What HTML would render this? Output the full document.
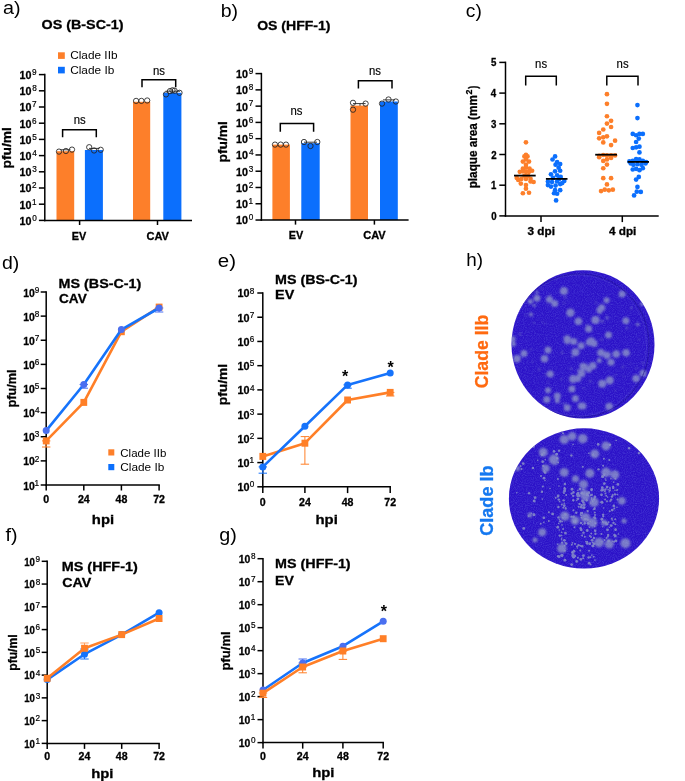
<!DOCTYPE html><html><head><meta charset="utf-8"><style>html,body{margin:0;padding:0;background:#fff;width:685px;height:781px;overflow:hidden;}svg{display:block;will-change:transform;font-family:"Liberation Sans", sans-serif;}</style></head><body><svg width="685" height="781" viewBox="0 0 685 781" font-family='"Liberation Sans", sans-serif'>
<rect width="685" height="781" fill="#fff"/>
<text x="2.96" y="13.70" font-size="18.7" textLength="17.56" lengthAdjust="spacingAndGlyphs">a)</text>
<text x="220.74" y="16.90" font-size="18.7" textLength="17.37" lengthAdjust="spacingAndGlyphs">b)</text>
<text x="465.88" y="17.20" font-size="18.7" textLength="16.01" lengthAdjust="spacingAndGlyphs">c)</text>
<text x="1.98" y="269.40" font-size="18.7" textLength="17.33" lengthAdjust="spacingAndGlyphs">d)</text>
<text x="217.83" y="266.50" font-size="18.7" textLength="18.24" lengthAdjust="spacingAndGlyphs">e)</text>
<text x="5.62" y="540.70" font-size="18.7" textLength="12.00" lengthAdjust="spacingAndGlyphs">f)</text>
<text x="219.17" y="540.80" font-size="18.7" textLength="17.55" lengthAdjust="spacingAndGlyphs">g)</text>
<text x="466.39" y="266.40" font-size="18.7" textLength="16.78" lengthAdjust="spacingAndGlyphs">h)</text>
<rect x="56.50" y="151.20" width="17.70" height="69.20" fill="#fd7f2a"/>
<rect x="84.90" y="150.00" width="18.00" height="70.40" fill="#0b6ffd"/>
<rect x="133.00" y="101.80" width="17.20" height="118.60" fill="#fd7f2a"/>
<rect x="163.30" y="92.80" width="18.10" height="127.60" fill="#0b6ffd"/>
<circle cx="59.00" cy="151.60" r="2.65" fill="none" stroke="#222" stroke-width="0.85"/>
<circle cx="65.90" cy="151.00" r="2.65" fill="none" stroke="#222" stroke-width="0.85"/>
<circle cx="72.00" cy="149.60" r="2.65" fill="none" stroke="#222" stroke-width="0.85"/>
<circle cx="89.20" cy="147.20" r="2.65" fill="none" stroke="#222" stroke-width="0.85"/>
<circle cx="94.10" cy="150.50" r="2.65" fill="none" stroke="#222" stroke-width="0.85"/>
<circle cx="100.70" cy="149.80" r="2.65" fill="none" stroke="#222" stroke-width="0.85"/>
<circle cx="136.10" cy="100.90" r="2.65" fill="none" stroke="#222" stroke-width="0.85"/>
<circle cx="141.40" cy="100.90" r="2.65" fill="none" stroke="#222" stroke-width="0.85"/>
<circle cx="147.20" cy="100.50" r="2.65" fill="none" stroke="#222" stroke-width="0.85"/>
<circle cx="166.00" cy="94.40" r="2.65" fill="none" stroke="#222" stroke-width="0.85"/>
<circle cx="170.00" cy="91.10" r="2.65" fill="none" stroke="#222" stroke-width="0.85"/>
<circle cx="172.50" cy="90.30" r="2.65" fill="none" stroke="#222" stroke-width="0.85"/>
<circle cx="174.60" cy="90.70" r="2.65" fill="none" stroke="#222" stroke-width="0.85"/>
<circle cx="179.50" cy="92.80" r="2.65" fill="none" stroke="#222" stroke-width="0.85"/>
<line x1="60.50" y1="149.80" x2="70.50" y2="149.80" stroke="#222" stroke-width="0.9" stroke-linecap="butt"/>
<line x1="89.00" y1="148.40" x2="99.50" y2="148.40" stroke="#222" stroke-width="0.9" stroke-linecap="butt"/>
<line x1="165.50" y1="91.20" x2="180.00" y2="91.20" stroke="#222" stroke-width="0.9" stroke-linecap="butt"/>
<line x1="44.80" y1="73.85" x2="44.80" y2="221.15" stroke="#000" stroke-width="1.5" stroke-linecap="butt"/>
<line x1="38.90" y1="74.60" x2="44.80" y2="74.60" stroke="#000" stroke-width="1.5" stroke-linecap="butt"/>
<text x="19.48" y="79.00" font-size="11.0" font-weight="bold" stroke="#000" stroke-width="0.3" textLength="11.91" lengthAdjust="spacingAndGlyphs">10</text>
<text x="32.12" y="74.90" font-size="8.2" stroke="#000" stroke-width="0.2">9</text>
<line x1="38.90" y1="90.80" x2="44.80" y2="90.80" stroke="#000" stroke-width="1.5" stroke-linecap="butt"/>
<text x="19.48" y="95.20" font-size="11.0" font-weight="bold" stroke="#000" stroke-width="0.3" textLength="11.91" lengthAdjust="spacingAndGlyphs">10</text>
<text x="32.14" y="91.10" font-size="8.2" stroke="#000" stroke-width="0.2">8</text>
<line x1="38.90" y1="107.00" x2="44.80" y2="107.00" stroke="#000" stroke-width="1.5" stroke-linecap="butt"/>
<text x="19.48" y="111.40" font-size="11.0" font-weight="bold" stroke="#000" stroke-width="0.3" textLength="11.91" lengthAdjust="spacingAndGlyphs">10</text>
<text x="32.08" y="107.30" font-size="8.2" stroke="#000" stroke-width="0.2">7</text>
<line x1="38.90" y1="123.20" x2="44.80" y2="123.20" stroke="#000" stroke-width="1.5" stroke-linecap="butt"/>
<text x="19.48" y="127.60" font-size="11.0" font-weight="bold" stroke="#000" stroke-width="0.3" textLength="11.91" lengthAdjust="spacingAndGlyphs">10</text>
<text x="32.08" y="123.50" font-size="8.2" stroke="#000" stroke-width="0.2">6</text>
<line x1="38.90" y1="139.40" x2="44.80" y2="139.40" stroke="#000" stroke-width="1.5" stroke-linecap="butt"/>
<text x="19.48" y="143.80" font-size="11.0" font-weight="bold" stroke="#000" stroke-width="0.3" textLength="11.91" lengthAdjust="spacingAndGlyphs">10</text>
<text x="32.17" y="139.70" font-size="8.2" stroke="#000" stroke-width="0.2">5</text>
<line x1="38.90" y1="155.60" x2="44.80" y2="155.60" stroke="#000" stroke-width="1.5" stroke-linecap="butt"/>
<text x="19.48" y="160.00" font-size="11.0" font-weight="bold" stroke="#000" stroke-width="0.3" textLength="11.91" lengthAdjust="spacingAndGlyphs">10</text>
<text x="32.31" y="155.90" font-size="8.2" stroke="#000" stroke-width="0.2">4</text>
<line x1="38.90" y1="171.80" x2="44.80" y2="171.80" stroke="#000" stroke-width="1.5" stroke-linecap="butt"/>
<text x="19.48" y="176.20" font-size="11.0" font-weight="bold" stroke="#000" stroke-width="0.3" textLength="11.91" lengthAdjust="spacingAndGlyphs">10</text>
<text x="32.19" y="172.10" font-size="8.2" stroke="#000" stroke-width="0.2">3</text>
<line x1="38.90" y1="188.00" x2="44.80" y2="188.00" stroke="#000" stroke-width="1.5" stroke-linecap="butt"/>
<text x="19.48" y="192.40" font-size="11.0" font-weight="bold" stroke="#000" stroke-width="0.3" textLength="11.91" lengthAdjust="spacingAndGlyphs">10</text>
<text x="32.09" y="188.30" font-size="8.2" stroke="#000" stroke-width="0.2">2</text>
<line x1="38.90" y1="204.20" x2="44.80" y2="204.20" stroke="#000" stroke-width="1.5" stroke-linecap="butt"/>
<text x="19.48" y="208.60" font-size="11.0" font-weight="bold" stroke="#000" stroke-width="0.3" textLength="11.91" lengthAdjust="spacingAndGlyphs">10</text>
<text x="31.88" y="204.50" font-size="8.2" stroke="#000" stroke-width="0.2">1</text>
<line x1="38.90" y1="220.40" x2="44.80" y2="220.40" stroke="#000" stroke-width="1.5" stroke-linecap="butt"/>
<text x="19.48" y="224.80" font-size="11.0" font-weight="bold" stroke="#000" stroke-width="0.3" textLength="11.91" lengthAdjust="spacingAndGlyphs">10</text>
<text x="32.18" y="220.70" font-size="8.2" stroke="#000" stroke-width="0.2">0</text>
<line x1="44.05" y1="220.40" x2="192.00" y2="220.40" stroke="#000" stroke-width="1.5" stroke-linecap="butt"/>
<line x1="79.60" y1="220.40" x2="79.60" y2="225.00" stroke="#000" stroke-width="1.5" stroke-linecap="butt"/>
<line x1="157.50" y1="220.40" x2="157.50" y2="225.00" stroke="#000" stroke-width="1.5" stroke-linecap="butt"/>
<text x="71.72" y="240.00" font-size="11.3" font-weight="bold" stroke="#000" stroke-width="0.3" textLength="14.50" lengthAdjust="spacingAndGlyphs">EV</text>
<text x="146.41" y="240.00" font-size="11.3" font-weight="bold" stroke="#000" stroke-width="0.3" textLength="22.51" lengthAdjust="spacingAndGlyphs">CAV</text>
<polyline points="62.60,137.30 62.60,129.80 96.30,129.80 96.30,137.30" fill="none" stroke="#000" stroke-width="1.5"/>
<text x="79.70" y="123.60" font-size="12" text-anchor="middle" textLength="12.00" lengthAdjust="spacingAndGlyphs" stroke="#000" stroke-width="0.15">ns</text>
<polyline points="142.00,87.30 142.00,79.80 175.70,79.80 175.70,87.30" fill="none" stroke="#000" stroke-width="1.5"/>
<text x="159.00" y="75.40" font-size="12" text-anchor="middle" textLength="12.00" lengthAdjust="spacingAndGlyphs" stroke="#000" stroke-width="0.15">ns</text>
<text x="41.56" y="29.20" font-size="13.2" font-weight="bold" stroke="#000" stroke-width="0.3" textLength="82.00" lengthAdjust="spacingAndGlyphs">OS (B-SC-1)</text>
<text transform="translate(10.60,167.80) rotate(-90)" x="-0.76" y="0" font-size="13.3" textLength="41.39" lengthAdjust="spacingAndGlyphs" font-weight="bold" stroke="#000" stroke-width="0.3">pfu/ml</text>
<rect x="58.00" y="52.30" width="6.80" height="6.60" fill="#fd7f2a"/>
<rect x="58.00" y="66.80" width="6.80" height="6.60" fill="#0b6ffd"/>
<text x="70.20" y="59.40" font-size="11.8" textLength="47.30" lengthAdjust="spacingAndGlyphs">Clade IIb</text>
<text x="70.20" y="73.90" font-size="11.8" textLength="44.10" lengthAdjust="spacingAndGlyphs">Clade Ib</text>
<rect x="272.40" y="144.60" width="17.50" height="75.43" fill="#fd7f2a"/>
<rect x="301.30" y="143.20" width="18.40" height="76.83" fill="#0b6ffd"/>
<rect x="350.50" y="105.60" width="17.50" height="114.43" fill="#fd7f2a"/>
<rect x="380.00" y="101.50" width="17.80" height="118.53" fill="#0b6ffd"/>
<circle cx="275.00" cy="144.60" r="2.65" fill="none" stroke="#222" stroke-width="0.85"/>
<circle cx="280.70" cy="144.60" r="2.65" fill="none" stroke="#222" stroke-width="0.85"/>
<circle cx="286.00" cy="144.60" r="2.65" fill="none" stroke="#222" stroke-width="0.85"/>
<circle cx="304.00" cy="142.00" r="2.65" fill="none" stroke="#222" stroke-width="0.85"/>
<circle cx="310.50" cy="146.00" r="2.65" fill="none" stroke="#222" stroke-width="0.85"/>
<circle cx="317.30" cy="142.00" r="2.65" fill="none" stroke="#222" stroke-width="0.85"/>
<circle cx="353.00" cy="102.80" r="2.65" fill="none" stroke="#222" stroke-width="0.85"/>
<circle cx="353.00" cy="109.70" r="2.65" fill="none" stroke="#222" stroke-width="0.85"/>
<circle cx="365.60" cy="103.60" r="2.65" fill="none" stroke="#222" stroke-width="0.85"/>
<circle cx="382.00" cy="103.60" r="2.65" fill="none" stroke="#222" stroke-width="0.85"/>
<circle cx="388.50" cy="99.50" r="2.65" fill="none" stroke="#222" stroke-width="0.85"/>
<circle cx="395.90" cy="101.50" r="2.65" fill="none" stroke="#222" stroke-width="0.85"/>
<line x1="304.00" y1="142.20" x2="317.00" y2="142.20" stroke="#222" stroke-width="0.9" stroke-linecap="butt"/>
<line x1="353.00" y1="103.60" x2="365.60" y2="103.60" stroke="#222" stroke-width="0.9" stroke-linecap="butt"/>
<line x1="383.00" y1="99.90" x2="395.00" y2="99.90" stroke="#222" stroke-width="0.9" stroke-linecap="butt"/>
<line x1="261.40" y1="72.85" x2="261.40" y2="220.78" stroke="#000" stroke-width="1.5" stroke-linecap="butt"/>
<line x1="255.50" y1="73.60" x2="261.40" y2="73.60" stroke="#000" stroke-width="1.5" stroke-linecap="butt"/>
<text x="236.08" y="78.00" font-size="11.0" font-weight="bold" stroke="#000" stroke-width="0.3" textLength="11.91" lengthAdjust="spacingAndGlyphs">10</text>
<text x="248.72" y="73.90" font-size="8.2" stroke="#000" stroke-width="0.2">9</text>
<line x1="255.50" y1="89.87" x2="261.40" y2="89.87" stroke="#000" stroke-width="1.5" stroke-linecap="butt"/>
<text x="236.08" y="94.27" font-size="11.0" font-weight="bold" stroke="#000" stroke-width="0.3" textLength="11.91" lengthAdjust="spacingAndGlyphs">10</text>
<text x="248.74" y="90.17" font-size="8.2" stroke="#000" stroke-width="0.2">8</text>
<line x1="255.50" y1="106.14" x2="261.40" y2="106.14" stroke="#000" stroke-width="1.5" stroke-linecap="butt"/>
<text x="236.08" y="110.54" font-size="11.0" font-weight="bold" stroke="#000" stroke-width="0.3" textLength="11.91" lengthAdjust="spacingAndGlyphs">10</text>
<text x="248.68" y="106.44" font-size="8.2" stroke="#000" stroke-width="0.2">7</text>
<line x1="255.50" y1="122.41" x2="261.40" y2="122.41" stroke="#000" stroke-width="1.5" stroke-linecap="butt"/>
<text x="236.08" y="126.81" font-size="11.0" font-weight="bold" stroke="#000" stroke-width="0.3" textLength="11.91" lengthAdjust="spacingAndGlyphs">10</text>
<text x="248.68" y="122.71" font-size="8.2" stroke="#000" stroke-width="0.2">6</text>
<line x1="255.50" y1="138.68" x2="261.40" y2="138.68" stroke="#000" stroke-width="1.5" stroke-linecap="butt"/>
<text x="236.08" y="143.08" font-size="11.0" font-weight="bold" stroke="#000" stroke-width="0.3" textLength="11.91" lengthAdjust="spacingAndGlyphs">10</text>
<text x="248.77" y="138.98" font-size="8.2" stroke="#000" stroke-width="0.2">5</text>
<line x1="255.50" y1="154.95" x2="261.40" y2="154.95" stroke="#000" stroke-width="1.5" stroke-linecap="butt"/>
<text x="236.08" y="159.35" font-size="11.0" font-weight="bold" stroke="#000" stroke-width="0.3" textLength="11.91" lengthAdjust="spacingAndGlyphs">10</text>
<text x="248.91" y="155.25" font-size="8.2" stroke="#000" stroke-width="0.2">4</text>
<line x1="255.50" y1="171.22" x2="261.40" y2="171.22" stroke="#000" stroke-width="1.5" stroke-linecap="butt"/>
<text x="236.08" y="175.62" font-size="11.0" font-weight="bold" stroke="#000" stroke-width="0.3" textLength="11.91" lengthAdjust="spacingAndGlyphs">10</text>
<text x="248.79" y="171.52" font-size="8.2" stroke="#000" stroke-width="0.2">3</text>
<line x1="255.50" y1="187.49" x2="261.40" y2="187.49" stroke="#000" stroke-width="1.5" stroke-linecap="butt"/>
<text x="236.08" y="191.89" font-size="11.0" font-weight="bold" stroke="#000" stroke-width="0.3" textLength="11.91" lengthAdjust="spacingAndGlyphs">10</text>
<text x="248.69" y="187.79" font-size="8.2" stroke="#000" stroke-width="0.2">2</text>
<line x1="255.50" y1="203.76" x2="261.40" y2="203.76" stroke="#000" stroke-width="1.5" stroke-linecap="butt"/>
<text x="236.08" y="208.16" font-size="11.0" font-weight="bold" stroke="#000" stroke-width="0.3" textLength="11.91" lengthAdjust="spacingAndGlyphs">10</text>
<text x="248.48" y="204.06" font-size="8.2" stroke="#000" stroke-width="0.2">1</text>
<line x1="255.50" y1="220.03" x2="261.40" y2="220.03" stroke="#000" stroke-width="1.5" stroke-linecap="butt"/>
<text x="236.08" y="224.43" font-size="11.0" font-weight="bold" stroke="#000" stroke-width="0.3" textLength="11.91" lengthAdjust="spacingAndGlyphs">10</text>
<text x="248.78" y="220.33" font-size="8.2" stroke="#000" stroke-width="0.2">0</text>
<line x1="260.65" y1="220.03" x2="408.60" y2="220.03" stroke="#000" stroke-width="1.5" stroke-linecap="butt"/>
<line x1="295.50" y1="220.03" x2="295.50" y2="224.63" stroke="#000" stroke-width="1.5" stroke-linecap="butt"/>
<line x1="374.40" y1="220.03" x2="374.40" y2="224.63" stroke="#000" stroke-width="1.5" stroke-linecap="butt"/>
<text x="288.72" y="239.20" font-size="11.3" font-weight="bold" stroke="#000" stroke-width="0.3" textLength="14.50" lengthAdjust="spacingAndGlyphs">EV</text>
<text x="363.21" y="239.20" font-size="11.3" font-weight="bold" stroke="#000" stroke-width="0.3" textLength="22.51" lengthAdjust="spacingAndGlyphs">CAV</text>
<polyline points="280.30,131.80 280.30,123.40 313.60,123.40 313.60,131.80" fill="none" stroke="#000" stroke-width="1.5"/>
<text x="296.40" y="114.70" font-size="12" text-anchor="middle" textLength="12.00" lengthAdjust="spacingAndGlyphs" stroke="#000" stroke-width="0.15">ns</text>
<polyline points="358.40,88.50 358.40,80.70 392.00,80.70 392.00,88.50" fill="none" stroke="#000" stroke-width="1.5"/>
<text x="375.00" y="75.00" font-size="12" text-anchor="middle" textLength="12.00" lengthAdjust="spacingAndGlyphs" stroke="#000" stroke-width="0.15">ns</text>
<text x="257.17" y="29.70" font-size="13.2" font-weight="bold" stroke="#000" stroke-width="0.3" textLength="73.27" lengthAdjust="spacingAndGlyphs">OS (HFF-1)</text>
<text transform="translate(226.90,161.80) rotate(-90)" x="-0.76" y="0" font-size="13.3" textLength="41.39" lengthAdjust="spacingAndGlyphs" font-weight="bold" stroke="#000" stroke-width="0.3">pfu/ml</text>
<line x1="360.00" y1="103.60" x2="360.00" y2="105.80" stroke="#222" stroke-width="0.9" stroke-linecap="butt"/>
<line x1="505.50" y1="61.65" x2="505.50" y2="216.65" stroke="#000" stroke-width="1.5" stroke-linecap="butt"/>
<line x1="499.30" y1="215.90" x2="505.50" y2="215.90" stroke="#000" stroke-width="1.5" stroke-linecap="butt"/>
<text x="491.17" y="219.90" font-size="10.3" font-weight="bold" stroke="#000" stroke-width="0.3" textLength="5.38" lengthAdjust="spacingAndGlyphs">0</text>
<line x1="499.30" y1="185.20" x2="505.50" y2="185.20" stroke="#000" stroke-width="1.5" stroke-linecap="butt"/>
<text x="491.05" y="189.20" font-size="10.3" font-weight="bold" stroke="#000" stroke-width="0.3" textLength="5.37" lengthAdjust="spacingAndGlyphs">1</text>
<line x1="499.30" y1="154.50" x2="505.50" y2="154.50" stroke="#000" stroke-width="1.5" stroke-linecap="butt"/>
<text x="491.16" y="158.50" font-size="10.3" font-weight="bold" stroke="#000" stroke-width="0.3" textLength="5.38" lengthAdjust="spacingAndGlyphs">2</text>
<line x1="499.30" y1="123.80" x2="505.50" y2="123.80" stroke="#000" stroke-width="1.5" stroke-linecap="butt"/>
<text x="491.11" y="127.80" font-size="10.3" font-weight="bold" stroke="#000" stroke-width="0.3" textLength="5.39" lengthAdjust="spacingAndGlyphs">3</text>
<line x1="499.30" y1="93.10" x2="505.50" y2="93.10" stroke="#000" stroke-width="1.5" stroke-linecap="butt"/>
<text x="490.79" y="97.10" font-size="10.3" font-weight="bold" stroke="#000" stroke-width="0.3" textLength="5.42" lengthAdjust="spacingAndGlyphs">4</text>
<line x1="499.30" y1="62.40" x2="505.50" y2="62.40" stroke="#000" stroke-width="1.5" stroke-linecap="butt"/>
<text x="491.03" y="66.40" font-size="10.3" font-weight="bold" stroke="#000" stroke-width="0.3" textLength="5.39" lengthAdjust="spacingAndGlyphs">5</text>
<line x1="504.75" y1="215.90" x2="658.70" y2="215.90" stroke="#000" stroke-width="1.5" stroke-linecap="butt"/>
<line x1="541.00" y1="215.90" x2="541.00" y2="222.10" stroke="#000" stroke-width="1.5" stroke-linecap="butt"/>
<text x="527.58" y="235.10" font-size="11" font-weight="bold" stroke="#000" stroke-width="0.3" textLength="27.40" lengthAdjust="spacingAndGlyphs">3 dpi</text>
<line x1="622.30" y1="215.90" x2="622.30" y2="222.10" stroke="#000" stroke-width="1.5" stroke-linecap="butt"/>
<text x="608.97" y="235.10" font-size="11" font-weight="bold" stroke="#000" stroke-width="0.3" textLength="27.41" lengthAdjust="spacingAndGlyphs">4 dpi</text>
<polyline points="525.70,85.4 525.70,76.2 556.30,76.2 556.30,85.4" fill="none" stroke="#000" stroke-width="1.5"/>
<text x="541.10" y="68.30" font-size="12" text-anchor="middle" textLength="12.00" lengthAdjust="spacingAndGlyphs" stroke="#000" stroke-width="0.15">ns</text>
<polyline points="606.80,85.4 606.80,76.2 638.00,76.2 638.00,85.4" fill="none" stroke="#000" stroke-width="1.5"/>
<text x="622.60" y="68.30" font-size="12" text-anchor="middle" textLength="12.00" lengthAdjust="spacingAndGlyphs" stroke="#000" stroke-width="0.15">ns</text>
<text transform="translate(477.00,187.70) rotate(-90)" x="-0.62" y="0" font-size="13.3" textLength="93.20" lengthAdjust="spacingAndGlyphs" font-weight="bold" stroke="#000" stroke-width="0.3">plaque area (mm</text>
<text transform="translate(472.20,94.40) rotate(-90)" x="-0.15" y="0" font-size="9.7" textLength="4.85" lengthAdjust="spacingAndGlyphs" font-weight="bold" stroke="#000" stroke-width="0.3">2</text>
<text transform="translate(476.60,89.00) rotate(-90)" x="0.14" y="0" font-size="12.7" textLength="3.07" lengthAdjust="spacingAndGlyphs" font-weight="bold" stroke="#000" stroke-width="0.3">)</text>
<circle cx="525.95" cy="142.36" r="2.35" fill="#fd7f2a"/>
<circle cx="524.42" cy="156.46" r="2.35" fill="#fd7f2a"/>
<circle cx="527.48" cy="156.46" r="2.35" fill="#fd7f2a"/>
<circle cx="525.95" cy="154.93" r="2.35" fill="#fd7f2a"/>
<circle cx="522.88" cy="161.57" r="2.35" fill="#fd7f2a"/>
<circle cx="529.01" cy="161.57" r="2.35" fill="#fd7f2a"/>
<circle cx="525.95" cy="159.52" r="2.35" fill="#fd7f2a"/>
<circle cx="525.95" cy="164.63" r="2.35" fill="#fd7f2a"/>
<circle cx="522.88" cy="168.72" r="2.35" fill="#fd7f2a"/>
<circle cx="525.95" cy="167.70" r="2.35" fill="#fd7f2a"/>
<circle cx="529.52" cy="168.72" r="2.35" fill="#fd7f2a"/>
<circle cx="532.08" cy="170.77" r="2.35" fill="#fd7f2a"/>
<circle cx="519.82" cy="171.79" r="2.35" fill="#fd7f2a"/>
<circle cx="522.88" cy="171.28" r="2.35" fill="#fd7f2a"/>
<circle cx="525.95" cy="171.79" r="2.35" fill="#fd7f2a"/>
<circle cx="529.01" cy="171.79" r="2.35" fill="#fd7f2a"/>
<circle cx="518.28" cy="179.96" r="2.35" fill="#fd7f2a"/>
<circle cx="521.35" cy="178.94" r="2.35" fill="#fd7f2a"/>
<circle cx="525.95" cy="178.94" r="2.35" fill="#fd7f2a"/>
<circle cx="530.55" cy="178.94" r="2.35" fill="#fd7f2a"/>
<circle cx="533.61" cy="182.01" r="2.35" fill="#fd7f2a"/>
<circle cx="520.84" cy="183.54" r="2.35" fill="#fd7f2a"/>
<circle cx="525.95" cy="185.07" r="2.35" fill="#fd7f2a"/>
<circle cx="525.95" cy="188.65" r="2.35" fill="#fd7f2a"/>
<circle cx="522.88" cy="193.25" r="2.35" fill="#fd7f2a"/>
<circle cx="529.01" cy="192.74" r="2.35" fill="#fd7f2a"/>
<circle cx="516.75" cy="177.92" r="2.35" fill="#fd7f2a"/>
<circle cx="524.42" cy="175.87" r="2.35" fill="#fd7f2a"/>
<circle cx="527.99" cy="175.87" r="2.35" fill="#fd7f2a"/>
<circle cx="530.55" cy="181.49" r="2.35" fill="#fd7f2a"/>
<circle cx="555.07" cy="156.46" r="2.35" fill="#0b6ffd"/>
<circle cx="552.52" cy="159.52" r="2.35" fill="#0b6ffd"/>
<circle cx="557.12" cy="162.08" r="2.35" fill="#0b6ffd"/>
<circle cx="560.18" cy="164.12" r="2.35" fill="#0b6ffd"/>
<circle cx="555.58" cy="164.63" r="2.35" fill="#0b6ffd"/>
<circle cx="558.65" cy="167.70" r="2.35" fill="#0b6ffd"/>
<circle cx="560.18" cy="170.77" r="2.35" fill="#0b6ffd"/>
<circle cx="555.07" cy="171.28" r="2.35" fill="#0b6ffd"/>
<circle cx="550.98" cy="174.34" r="2.35" fill="#0b6ffd"/>
<circle cx="557.12" cy="175.36" r="2.35" fill="#0b6ffd"/>
<circle cx="560.69" cy="176.90" r="2.35" fill="#0b6ffd"/>
<circle cx="547.92" cy="181.49" r="2.35" fill="#0b6ffd"/>
<circle cx="552.01" cy="182.01" r="2.35" fill="#0b6ffd"/>
<circle cx="557.12" cy="181.49" r="2.35" fill="#0b6ffd"/>
<circle cx="564.27" cy="180.98" r="2.35" fill="#0b6ffd"/>
<circle cx="547.92" cy="185.07" r="2.35" fill="#0b6ffd"/>
<circle cx="550.98" cy="186.60" r="2.35" fill="#0b6ffd"/>
<circle cx="555.58" cy="185.58" r="2.35" fill="#0b6ffd"/>
<circle cx="560.18" cy="184.05" r="2.35" fill="#0b6ffd"/>
<circle cx="562.22" cy="183.03" r="2.35" fill="#0b6ffd"/>
<circle cx="555.07" cy="190.18" r="2.35" fill="#0b6ffd"/>
<circle cx="560.18" cy="190.18" r="2.35" fill="#0b6ffd"/>
<circle cx="554.05" cy="193.25" r="2.35" fill="#0b6ffd"/>
<circle cx="557.12" cy="193.76" r="2.35" fill="#0b6ffd"/>
<circle cx="556.09" cy="200.40" r="2.35" fill="#0b6ffd"/>
<circle cx="553.03" cy="177.92" r="2.35" fill="#0b6ffd"/>
<circle cx="559.16" cy="178.94" r="2.35" fill="#0b6ffd"/>
<circle cx="606.95" cy="94.14" r="2.35" fill="#fd7f2a"/>
<circle cx="606.95" cy="103.86" r="2.35" fill="#fd7f2a"/>
<circle cx="606.95" cy="116.24" r="2.35" fill="#fd7f2a"/>
<circle cx="611.07" cy="120.81" r="2.35" fill="#fd7f2a"/>
<circle cx="606.95" cy="123.61" r="2.35" fill="#fd7f2a"/>
<circle cx="611.07" cy="127.00" r="2.35" fill="#fd7f2a"/>
<circle cx="603.26" cy="129.50" r="2.35" fill="#fd7f2a"/>
<circle cx="599.14" cy="132.89" r="2.35" fill="#fd7f2a"/>
<circle cx="606.95" cy="136.28" r="2.35" fill="#fd7f2a"/>
<circle cx="603.26" cy="137.31" r="2.35" fill="#fd7f2a"/>
<circle cx="599.14" cy="138.35" r="2.35" fill="#fd7f2a"/>
<circle cx="615.05" cy="140.70" r="2.35" fill="#fd7f2a"/>
<circle cx="603.26" cy="142.47" r="2.35" fill="#fd7f2a"/>
<circle cx="611.07" cy="145.12" r="2.35" fill="#fd7f2a"/>
<circle cx="599.14" cy="155.73" r="2.35" fill="#fd7f2a"/>
<circle cx="603.26" cy="155.00" r="2.35" fill="#fd7f2a"/>
<circle cx="606.95" cy="155.44" r="2.35" fill="#fd7f2a"/>
<circle cx="611.07" cy="155.44" r="2.35" fill="#fd7f2a"/>
<circle cx="615.05" cy="155.44" r="2.35" fill="#fd7f2a"/>
<circle cx="599.14" cy="157.21" r="2.35" fill="#fd7f2a"/>
<circle cx="603.26" cy="160.89" r="2.35" fill="#fd7f2a"/>
<circle cx="606.95" cy="159.42" r="2.35" fill="#fd7f2a"/>
<circle cx="611.07" cy="157.94" r="2.35" fill="#fd7f2a"/>
<circle cx="606.95" cy="164.58" r="2.35" fill="#fd7f2a"/>
<circle cx="603.26" cy="168.26" r="2.35" fill="#fd7f2a"/>
<circle cx="603.26" cy="178.13" r="2.35" fill="#fd7f2a"/>
<circle cx="611.07" cy="178.13" r="2.35" fill="#fd7f2a"/>
<circle cx="606.95" cy="184.47" r="2.35" fill="#fd7f2a"/>
<circle cx="601.05" cy="191.10" r="2.35" fill="#fd7f2a"/>
<circle cx="604.74" cy="189.63" r="2.35" fill="#fd7f2a"/>
<circle cx="608.86" cy="190.36" r="2.35" fill="#fd7f2a"/>
<circle cx="612.84" cy="189.63" r="2.35" fill="#fd7f2a"/>
<circle cx="637.45" cy="105.07" r="2.35" fill="#0b6ffd"/>
<circle cx="637.45" cy="118.09" r="2.35" fill="#0b6ffd"/>
<circle cx="632.75" cy="133.93" r="2.35" fill="#0b6ffd"/>
<circle cx="636.11" cy="135.27" r="2.35" fill="#0b6ffd"/>
<circle cx="639.46" cy="133.93" r="2.35" fill="#0b6ffd"/>
<circle cx="642.82" cy="133.93" r="2.35" fill="#0b6ffd"/>
<circle cx="638.79" cy="138.62" r="2.35" fill="#0b6ffd"/>
<circle cx="636.11" cy="141.98" r="2.35" fill="#0b6ffd"/>
<circle cx="632.75" cy="148.02" r="2.35" fill="#0b6ffd"/>
<circle cx="636.11" cy="147.35" r="2.35" fill="#0b6ffd"/>
<circle cx="639.46" cy="146.68" r="2.35" fill="#0b6ffd"/>
<circle cx="639.46" cy="152.45" r="2.35" fill="#0b6ffd"/>
<circle cx="629.40" cy="161.44" r="2.35" fill="#0b6ffd"/>
<circle cx="632.75" cy="160.77" r="2.35" fill="#0b6ffd"/>
<circle cx="636.11" cy="159.16" r="2.35" fill="#0b6ffd"/>
<circle cx="639.46" cy="159.43" r="2.35" fill="#0b6ffd"/>
<circle cx="642.82" cy="160.77" r="2.35" fill="#0b6ffd"/>
<circle cx="646.17" cy="162.11" r="2.35" fill="#0b6ffd"/>
<circle cx="630.74" cy="163.46" r="2.35" fill="#0b6ffd"/>
<circle cx="633.42" cy="164.80" r="2.35" fill="#0b6ffd"/>
<circle cx="637.45" cy="164.13" r="2.35" fill="#0b6ffd"/>
<circle cx="641.48" cy="164.80" r="2.35" fill="#0b6ffd"/>
<circle cx="645.50" cy="163.46" r="2.35" fill="#0b6ffd"/>
<circle cx="632.75" cy="169.50" r="2.35" fill="#0b6ffd"/>
<circle cx="636.11" cy="168.83" r="2.35" fill="#0b6ffd"/>
<circle cx="639.46" cy="170.17" r="2.35" fill="#0b6ffd"/>
<circle cx="642.82" cy="168.15" r="2.35" fill="#0b6ffd"/>
<circle cx="638.79" cy="176.88" r="2.35" fill="#0b6ffd"/>
<circle cx="636.11" cy="179.56" r="2.35" fill="#0b6ffd"/>
<circle cx="637.45" cy="186.95" r="2.35" fill="#0b6ffd"/>
<circle cx="636.78" cy="191.64" r="2.35" fill="#0b6ffd"/>
<circle cx="640.81" cy="191.91" r="2.35" fill="#0b6ffd"/>
<circle cx="634.09" cy="195.40" r="2.35" fill="#0b6ffd"/>
<line x1="514.00" y1="175.60" x2="535.70" y2="175.60" stroke="#000" stroke-width="1.8" stroke-linecap="butt"/>
<line x1="545.90" y1="178.90" x2="567.50" y2="178.90" stroke="#000" stroke-width="1.8" stroke-linecap="butt"/>
<line x1="595.20" y1="154.70" x2="617.00" y2="154.70" stroke="#000" stroke-width="1.8" stroke-linecap="butt"/>
<line x1="627.60" y1="161.90" x2="649.00" y2="161.90" stroke="#000" stroke-width="1.8" stroke-linecap="butt"/>
<line x1="46.20" y1="291.25" x2="46.20" y2="485.75" stroke="#000" stroke-width="1.5" stroke-linecap="butt"/>
<line x1="40.70" y1="292.00" x2="46.20" y2="292.00" stroke="#000" stroke-width="1.5" stroke-linecap="butt"/>
<text x="23.29" y="296.50" font-size="11.4" font-weight="bold" stroke="#000" stroke-width="0.3" textLength="11.58" lengthAdjust="spacingAndGlyphs">10</text>
<text x="34.72" y="292.70" font-size="8.2" stroke="#000" stroke-width="0.2">9</text>
<line x1="40.70" y1="316.12" x2="46.20" y2="316.12" stroke="#000" stroke-width="1.5" stroke-linecap="butt"/>
<text x="23.29" y="320.62" font-size="11.4" font-weight="bold" stroke="#000" stroke-width="0.3" textLength="11.58" lengthAdjust="spacingAndGlyphs">10</text>
<text x="34.74" y="316.82" font-size="8.2" stroke="#000" stroke-width="0.2">8</text>
<line x1="40.70" y1="340.25" x2="46.20" y2="340.25" stroke="#000" stroke-width="1.5" stroke-linecap="butt"/>
<text x="23.29" y="344.75" font-size="11.4" font-weight="bold" stroke="#000" stroke-width="0.3" textLength="11.58" lengthAdjust="spacingAndGlyphs">10</text>
<text x="34.68" y="340.95" font-size="8.2" stroke="#000" stroke-width="0.2">7</text>
<line x1="40.70" y1="364.38" x2="46.20" y2="364.38" stroke="#000" stroke-width="1.5" stroke-linecap="butt"/>
<text x="23.29" y="368.88" font-size="11.4" font-weight="bold" stroke="#000" stroke-width="0.3" textLength="11.58" lengthAdjust="spacingAndGlyphs">10</text>
<text x="34.68" y="365.07" font-size="8.2" stroke="#000" stroke-width="0.2">6</text>
<line x1="40.70" y1="388.50" x2="46.20" y2="388.50" stroke="#000" stroke-width="1.5" stroke-linecap="butt"/>
<text x="23.29" y="393.00" font-size="11.4" font-weight="bold" stroke="#000" stroke-width="0.3" textLength="11.58" lengthAdjust="spacingAndGlyphs">10</text>
<text x="34.77" y="389.20" font-size="8.2" stroke="#000" stroke-width="0.2">5</text>
<line x1="40.70" y1="412.62" x2="46.20" y2="412.62" stroke="#000" stroke-width="1.5" stroke-linecap="butt"/>
<text x="23.29" y="417.12" font-size="11.4" font-weight="bold" stroke="#000" stroke-width="0.3" textLength="11.58" lengthAdjust="spacingAndGlyphs">10</text>
<text x="34.91" y="413.32" font-size="8.2" stroke="#000" stroke-width="0.2">4</text>
<line x1="40.70" y1="436.75" x2="46.20" y2="436.75" stroke="#000" stroke-width="1.5" stroke-linecap="butt"/>
<text x="23.29" y="441.25" font-size="11.4" font-weight="bold" stroke="#000" stroke-width="0.3" textLength="11.58" lengthAdjust="spacingAndGlyphs">10</text>
<text x="34.79" y="437.45" font-size="8.2" stroke="#000" stroke-width="0.2">3</text>
<line x1="40.70" y1="460.88" x2="46.20" y2="460.88" stroke="#000" stroke-width="1.5" stroke-linecap="butt"/>
<text x="23.29" y="465.38" font-size="11.4" font-weight="bold" stroke="#000" stroke-width="0.3" textLength="11.58" lengthAdjust="spacingAndGlyphs">10</text>
<text x="34.69" y="461.57" font-size="8.2" stroke="#000" stroke-width="0.2">2</text>
<line x1="40.70" y1="485.00" x2="46.20" y2="485.00" stroke="#000" stroke-width="1.5" stroke-linecap="butt"/>
<text x="23.29" y="489.50" font-size="11.4" font-weight="bold" stroke="#000" stroke-width="0.3" textLength="11.58" lengthAdjust="spacingAndGlyphs">10</text>
<text x="34.48" y="485.70" font-size="8.2" stroke="#000" stroke-width="0.2">1</text>
<line x1="45.45" y1="485.00" x2="159.85" y2="485.00" stroke="#000" stroke-width="1.5" stroke-linecap="butt"/>
<line x1="46.20" y1="485.00" x2="46.20" y2="490.50" stroke="#000" stroke-width="1.5" stroke-linecap="butt"/>
<text x="46.20" y="502.70" font-size="10.6" font-weight="bold" stroke="#000" stroke-width="0.3" text-anchor="middle">0</text>
<line x1="83.80" y1="485.00" x2="83.80" y2="490.50" stroke="#000" stroke-width="1.5" stroke-linecap="butt"/>
<text x="83.80" y="502.70" font-size="10.6" font-weight="bold" stroke="#000" stroke-width="0.3" text-anchor="middle">24</text>
<line x1="121.40" y1="485.00" x2="121.40" y2="490.50" stroke="#000" stroke-width="1.5" stroke-linecap="butt"/>
<text x="121.40" y="502.70" font-size="10.6" font-weight="bold" stroke="#000" stroke-width="0.3" text-anchor="middle">48</text>
<line x1="159.10" y1="485.00" x2="159.10" y2="490.50" stroke="#000" stroke-width="1.5" stroke-linecap="butt"/>
<text x="159.10" y="502.70" font-size="10.6" font-weight="bold" stroke="#000" stroke-width="0.3" text-anchor="middle">72</text>
<text x="91.86" y="524.30" font-size="13.7" font-weight="bold" stroke="#000" stroke-width="0.3" textLength="22.29" lengthAdjust="spacingAndGlyphs">hpi</text>
<text x="58.59" y="288.30" font-size="13.5" font-weight="bold" stroke="#000" stroke-width="0.3" textLength="82.77" lengthAdjust="spacingAndGlyphs">MS (BS-C-1)</text>
<text x="59.01" y="302.60" font-size="13.5" font-weight="bold" stroke="#000" stroke-width="0.3" textLength="27.73" lengthAdjust="spacingAndGlyphs">CAV</text>
<line x1="46.20" y1="440.90" x2="46.20" y2="447.00" stroke="#ff7f27" stroke-width="1.0" stroke-linecap="butt"/>
<line x1="42.00" y1="440.90" x2="50.40" y2="440.90" stroke="#ff7f27" stroke-width="1.0" stroke-linecap="butt"/>
<line x1="42.00" y1="447.00" x2="50.40" y2="447.00" stroke="#ff7f27" stroke-width="1.0" stroke-linecap="butt"/>
<line x1="83.80" y1="384.50" x2="83.80" y2="388.20" stroke="#4a6ff0" stroke-width="1.0" stroke-linecap="butt"/>
<line x1="79.60" y1="384.50" x2="88.00" y2="384.50" stroke="#4a6ff0" stroke-width="1.0" stroke-linecap="butt"/>
<line x1="79.60" y1="388.20" x2="88.00" y2="388.20" stroke="#4a6ff0" stroke-width="1.0" stroke-linecap="butt"/>
<line x1="159.10" y1="308.00" x2="159.10" y2="312.00" stroke="#4a6ff0" stroke-width="1.0" stroke-linecap="butt"/>
<line x1="154.90" y1="308.00" x2="163.30" y2="308.00" stroke="#4a6ff0" stroke-width="1.0" stroke-linecap="butt"/>
<line x1="154.90" y1="312.00" x2="163.30" y2="312.00" stroke="#4a6ff0" stroke-width="1.0" stroke-linecap="butt"/>
<polyline points="46.20,440.90 83.80,402.40 121.40,331.70 159.10,307.10" fill="none" stroke="#ff7f27" stroke-width="2.6" stroke-linejoin="round"/>
<rect x="42.80" y="437.40" width="6.80" height="7.00" fill="#ff7f27"/>
<rect x="80.40" y="398.90" width="6.80" height="7.00" fill="#ff7f27"/>
<rect x="118.00" y="328.20" width="6.80" height="7.00" fill="#ff7f27"/>
<rect x="155.70" y="303.60" width="6.80" height="7.00" fill="#ff7f27"/>
<polyline points="46.20,430.60 83.80,384.50 121.40,329.60 159.10,308.00" fill="none" stroke="#1673fb" stroke-width="2.6" stroke-linejoin="round"/>
<circle cx="46.20" cy="430.60" r="3.50" fill="#4a6ff0"/>
<circle cx="83.80" cy="384.50" r="3.50" fill="#4a6ff0"/>
<circle cx="121.40" cy="329.60" r="3.50" fill="#4a6ff0"/>
<circle cx="159.10" cy="308.00" r="3.50" fill="#4a6ff0"/>
<text transform="translate(15.80,406.80) rotate(-90)" x="-0.69" y="0" font-size="13.3" textLength="38.03" lengthAdjust="spacingAndGlyphs" font-weight="bold" stroke="#000" stroke-width="0.3">pfu/ml</text>
<rect x="108.30" y="449.30" width="6.00" height="6.20" fill="#fd7f2a"/>
<rect x="108.30" y="464.00" width="6.00" height="6.20" fill="#0b6ffd"/>
<text x="120.32" y="456.50" font-size="11.8" textLength="45.97" lengthAdjust="spacingAndGlyphs">Clade IIb</text>
<text x="120.30" y="470.90" font-size="11.8" textLength="44.00" lengthAdjust="spacingAndGlyphs">Clade Ib</text>
<line x1="262.80" y1="292.25" x2="262.80" y2="487.55" stroke="#000" stroke-width="1.5" stroke-linecap="butt"/>
<line x1="257.30" y1="293.00" x2="262.80" y2="293.00" stroke="#000" stroke-width="1.5" stroke-linecap="butt"/>
<text x="237.57" y="297.40" font-size="11.4" font-weight="bold" stroke="#000" stroke-width="0.3" textLength="12.02" lengthAdjust="spacingAndGlyphs">10</text>
<text x="249.74" y="293.60" font-size="8.2" stroke="#000" stroke-width="0.2">8</text>
<line x1="257.30" y1="317.23" x2="262.80" y2="317.23" stroke="#000" stroke-width="1.5" stroke-linecap="butt"/>
<text x="237.57" y="321.62" font-size="11.4" font-weight="bold" stroke="#000" stroke-width="0.3" textLength="12.02" lengthAdjust="spacingAndGlyphs">10</text>
<text x="249.68" y="317.83" font-size="8.2" stroke="#000" stroke-width="0.2">7</text>
<line x1="257.30" y1="341.45" x2="262.80" y2="341.45" stroke="#000" stroke-width="1.5" stroke-linecap="butt"/>
<text x="237.57" y="345.85" font-size="11.4" font-weight="bold" stroke="#000" stroke-width="0.3" textLength="12.02" lengthAdjust="spacingAndGlyphs">10</text>
<text x="249.68" y="342.05" font-size="8.2" stroke="#000" stroke-width="0.2">6</text>
<line x1="257.30" y1="365.68" x2="262.80" y2="365.68" stroke="#000" stroke-width="1.5" stroke-linecap="butt"/>
<text x="237.57" y="370.07" font-size="11.4" font-weight="bold" stroke="#000" stroke-width="0.3" textLength="12.02" lengthAdjust="spacingAndGlyphs">10</text>
<text x="249.77" y="366.28" font-size="8.2" stroke="#000" stroke-width="0.2">5</text>
<line x1="257.30" y1="389.90" x2="262.80" y2="389.90" stroke="#000" stroke-width="1.5" stroke-linecap="butt"/>
<text x="237.57" y="394.30" font-size="11.4" font-weight="bold" stroke="#000" stroke-width="0.3" textLength="12.02" lengthAdjust="spacingAndGlyphs">10</text>
<text x="249.91" y="390.50" font-size="8.2" stroke="#000" stroke-width="0.2">4</text>
<line x1="257.30" y1="414.12" x2="262.80" y2="414.12" stroke="#000" stroke-width="1.5" stroke-linecap="butt"/>
<text x="237.57" y="418.52" font-size="11.4" font-weight="bold" stroke="#000" stroke-width="0.3" textLength="12.02" lengthAdjust="spacingAndGlyphs">10</text>
<text x="249.79" y="414.73" font-size="8.2" stroke="#000" stroke-width="0.2">3</text>
<line x1="257.30" y1="438.35" x2="262.80" y2="438.35" stroke="#000" stroke-width="1.5" stroke-linecap="butt"/>
<text x="237.57" y="442.75" font-size="11.4" font-weight="bold" stroke="#000" stroke-width="0.3" textLength="12.02" lengthAdjust="spacingAndGlyphs">10</text>
<text x="249.69" y="438.95" font-size="8.2" stroke="#000" stroke-width="0.2">2</text>
<line x1="257.30" y1="462.58" x2="262.80" y2="462.58" stroke="#000" stroke-width="1.5" stroke-linecap="butt"/>
<text x="237.57" y="466.98" font-size="11.4" font-weight="bold" stroke="#000" stroke-width="0.3" textLength="12.02" lengthAdjust="spacingAndGlyphs">10</text>
<text x="249.48" y="463.18" font-size="8.2" stroke="#000" stroke-width="0.2">1</text>
<line x1="257.30" y1="486.80" x2="262.80" y2="486.80" stroke="#000" stroke-width="1.5" stroke-linecap="butt"/>
<text x="237.57" y="491.20" font-size="11.4" font-weight="bold" stroke="#000" stroke-width="0.3" textLength="12.02" lengthAdjust="spacingAndGlyphs">10</text>
<text x="249.78" y="487.40" font-size="8.2" stroke="#000" stroke-width="0.2">0</text>
<line x1="262.05" y1="486.80" x2="390.95" y2="486.80" stroke="#000" stroke-width="1.5" stroke-linecap="butt"/>
<line x1="262.80" y1="486.80" x2="262.80" y2="493.10" stroke="#000" stroke-width="1.5" stroke-linecap="butt"/>
<text x="262.80" y="505.90" font-size="10.6" font-weight="bold" stroke="#000" stroke-width="0.3" text-anchor="middle">0</text>
<line x1="304.90" y1="486.80" x2="304.90" y2="493.10" stroke="#000" stroke-width="1.5" stroke-linecap="butt"/>
<text x="304.90" y="505.90" font-size="10.6" font-weight="bold" stroke="#000" stroke-width="0.3" text-anchor="middle">24</text>
<line x1="347.60" y1="486.80" x2="347.60" y2="493.10" stroke="#000" stroke-width="1.5" stroke-linecap="butt"/>
<text x="347.60" y="505.90" font-size="10.6" font-weight="bold" stroke="#000" stroke-width="0.3" text-anchor="middle">48</text>
<line x1="390.20" y1="486.80" x2="390.20" y2="493.10" stroke="#000" stroke-width="1.5" stroke-linecap="butt"/>
<text x="390.20" y="505.90" font-size="10.6" font-weight="bold" stroke="#000" stroke-width="0.3" text-anchor="middle">72</text>
<text x="315.56" y="524.10" font-size="13.7" font-weight="bold" stroke="#000" stroke-width="0.3" textLength="22.29" lengthAdjust="spacingAndGlyphs">hpi</text>
<text x="275.10" y="284.40" font-size="13.5" font-weight="bold" stroke="#000" stroke-width="0.3" textLength="82.47" lengthAdjust="spacingAndGlyphs">MS (BS-C-1)</text>
<text x="275.09" y="299.10" font-size="13.5" font-weight="bold" stroke="#000" stroke-width="0.3" textLength="19.16" lengthAdjust="spacingAndGlyphs">EV</text>
<line x1="262.80" y1="466.90" x2="262.80" y2="473.20" stroke="#1673fb" stroke-width="1.0" stroke-linecap="butt"/>
<line x1="258.60" y1="466.90" x2="267.00" y2="466.90" stroke="#1673fb" stroke-width="1.0" stroke-linecap="butt"/>
<line x1="258.60" y1="473.20" x2="267.00" y2="473.20" stroke="#1673fb" stroke-width="1.0" stroke-linecap="butt"/>
<line x1="304.90" y1="436.60" x2="304.90" y2="464.20" stroke="#ff7f27" stroke-width="1.0" stroke-linecap="butt"/>
<line x1="300.70" y1="436.60" x2="309.10" y2="436.60" stroke="#ff7f27" stroke-width="1.0" stroke-linecap="butt"/>
<line x1="300.70" y1="464.20" x2="309.10" y2="464.20" stroke="#ff7f27" stroke-width="1.0" stroke-linecap="butt"/>
<line x1="347.60" y1="384.90" x2="347.60" y2="388.20" stroke="#1673fb" stroke-width="1.0" stroke-linecap="butt"/>
<line x1="343.40" y1="384.90" x2="351.80" y2="384.90" stroke="#1673fb" stroke-width="1.0" stroke-linecap="butt"/>
<line x1="343.40" y1="388.20" x2="351.80" y2="388.20" stroke="#1673fb" stroke-width="1.0" stroke-linecap="butt"/>
<line x1="390.20" y1="392.40" x2="390.20" y2="396.00" stroke="#ff7f27" stroke-width="1.0" stroke-linecap="butt"/>
<line x1="386.00" y1="392.40" x2="394.40" y2="392.40" stroke="#ff7f27" stroke-width="1.0" stroke-linecap="butt"/>
<line x1="386.00" y1="396.00" x2="394.40" y2="396.00" stroke="#ff7f27" stroke-width="1.0" stroke-linecap="butt"/>
<polyline points="262.80,456.40 304.90,443.20 347.60,400.00 390.20,392.40" fill="none" stroke="#ff7f27" stroke-width="2.6" stroke-linejoin="round"/>
<rect x="259.40" y="452.90" width="6.80" height="7.00" fill="#ff7f27"/>
<rect x="301.50" y="439.70" width="6.80" height="7.00" fill="#ff7f27"/>
<rect x="344.20" y="396.50" width="6.80" height="7.00" fill="#ff7f27"/>
<rect x="386.80" y="388.90" width="6.80" height="7.00" fill="#ff7f27"/>
<polyline points="262.80,466.90 304.90,426.20 347.60,384.90 390.20,373.10" fill="none" stroke="#1673fb" stroke-width="2.6" stroke-linejoin="round"/>
<circle cx="262.80" cy="466.90" r="3.50" fill="#1673fb"/>
<circle cx="304.90" cy="426.20" r="3.50" fill="#1673fb"/>
<circle cx="347.60" cy="384.90" r="3.50" fill="#1673fb"/>
<circle cx="390.20" cy="373.10" r="3.50" fill="#1673fb"/>
<text x="345.00" y="381.70" font-size="16" font-weight="bold" text-anchor="middle">*</text>
<text x="390.60" y="373.30" font-size="16" font-weight="bold" text-anchor="middle">*</text>
<text transform="translate(227.10,404.50) rotate(-90)" x="-0.76" y="0" font-size="13.3" textLength="41.39" lengthAdjust="spacingAndGlyphs" font-weight="bold" stroke="#000" stroke-width="0.3">pfu/ml</text>
<line x1="47.20" y1="560.55" x2="47.20" y2="744.13" stroke="#000" stroke-width="1.5" stroke-linecap="butt"/>
<line x1="41.70" y1="561.30" x2="47.20" y2="561.30" stroke="#000" stroke-width="1.5" stroke-linecap="butt"/>
<text x="24.14" y="565.50" font-size="11.2" font-weight="bold" stroke="#000" stroke-width="0.3" textLength="10.70" lengthAdjust="spacingAndGlyphs">10</text>
<text x="35.62" y="562.00" font-size="8.2" stroke="#000" stroke-width="0.2">9</text>
<line x1="41.70" y1="584.06" x2="47.20" y2="584.06" stroke="#000" stroke-width="1.5" stroke-linecap="butt"/>
<text x="24.14" y="588.26" font-size="11.2" font-weight="bold" stroke="#000" stroke-width="0.3" textLength="10.70" lengthAdjust="spacingAndGlyphs">10</text>
<text x="35.64" y="584.76" font-size="8.2" stroke="#000" stroke-width="0.2">8</text>
<line x1="41.70" y1="606.82" x2="47.20" y2="606.82" stroke="#000" stroke-width="1.5" stroke-linecap="butt"/>
<text x="24.14" y="611.02" font-size="11.2" font-weight="bold" stroke="#000" stroke-width="0.3" textLength="10.70" lengthAdjust="spacingAndGlyphs">10</text>
<text x="35.58" y="607.52" font-size="8.2" stroke="#000" stroke-width="0.2">7</text>
<line x1="41.70" y1="629.58" x2="47.20" y2="629.58" stroke="#000" stroke-width="1.5" stroke-linecap="butt"/>
<text x="24.14" y="633.78" font-size="11.2" font-weight="bold" stroke="#000" stroke-width="0.3" textLength="10.70" lengthAdjust="spacingAndGlyphs">10</text>
<text x="35.58" y="630.28" font-size="8.2" stroke="#000" stroke-width="0.2">6</text>
<line x1="41.70" y1="652.34" x2="47.20" y2="652.34" stroke="#000" stroke-width="1.5" stroke-linecap="butt"/>
<text x="24.14" y="656.54" font-size="11.2" font-weight="bold" stroke="#000" stroke-width="0.3" textLength="10.70" lengthAdjust="spacingAndGlyphs">10</text>
<text x="35.67" y="653.04" font-size="8.2" stroke="#000" stroke-width="0.2">5</text>
<line x1="41.70" y1="675.10" x2="47.20" y2="675.10" stroke="#000" stroke-width="1.5" stroke-linecap="butt"/>
<text x="24.14" y="679.30" font-size="11.2" font-weight="bold" stroke="#000" stroke-width="0.3" textLength="10.70" lengthAdjust="spacingAndGlyphs">10</text>
<text x="35.81" y="675.80" font-size="8.2" stroke="#000" stroke-width="0.2">4</text>
<line x1="41.70" y1="697.86" x2="47.20" y2="697.86" stroke="#000" stroke-width="1.5" stroke-linecap="butt"/>
<text x="24.14" y="702.06" font-size="11.2" font-weight="bold" stroke="#000" stroke-width="0.3" textLength="10.70" lengthAdjust="spacingAndGlyphs">10</text>
<text x="35.69" y="698.56" font-size="8.2" stroke="#000" stroke-width="0.2">3</text>
<line x1="41.70" y1="720.62" x2="47.20" y2="720.62" stroke="#000" stroke-width="1.5" stroke-linecap="butt"/>
<text x="24.14" y="724.82" font-size="11.2" font-weight="bold" stroke="#000" stroke-width="0.3" textLength="10.70" lengthAdjust="spacingAndGlyphs">10</text>
<text x="35.59" y="721.32" font-size="8.2" stroke="#000" stroke-width="0.2">2</text>
<line x1="41.70" y1="743.38" x2="47.20" y2="743.38" stroke="#000" stroke-width="1.5" stroke-linecap="butt"/>
<text x="24.14" y="747.58" font-size="11.2" font-weight="bold" stroke="#000" stroke-width="0.3" textLength="10.70" lengthAdjust="spacingAndGlyphs">10</text>
<text x="35.38" y="744.08" font-size="8.2" stroke="#000" stroke-width="0.2">1</text>
<line x1="46.45" y1="743.38" x2="159.85" y2="743.38" stroke="#000" stroke-width="1.5" stroke-linecap="butt"/>
<line x1="47.20" y1="743.38" x2="47.20" y2="748.88" stroke="#000" stroke-width="1.5" stroke-linecap="butt"/>
<text x="47.20" y="760.00" font-size="10.6" font-weight="bold" stroke="#000" stroke-width="0.3" text-anchor="middle">0</text>
<line x1="84.50" y1="743.38" x2="84.50" y2="748.88" stroke="#000" stroke-width="1.5" stroke-linecap="butt"/>
<text x="84.50" y="760.00" font-size="10.6" font-weight="bold" stroke="#000" stroke-width="0.3" text-anchor="middle">24</text>
<line x1="121.70" y1="743.38" x2="121.70" y2="748.88" stroke="#000" stroke-width="1.5" stroke-linecap="butt"/>
<text x="121.70" y="760.00" font-size="10.6" font-weight="bold" stroke="#000" stroke-width="0.3" text-anchor="middle">48</text>
<line x1="159.10" y1="743.38" x2="159.10" y2="748.88" stroke="#000" stroke-width="1.5" stroke-linecap="butt"/>
<text x="159.10" y="760.00" font-size="10.6" font-weight="bold" stroke="#000" stroke-width="0.3" text-anchor="middle">72</text>
<text x="91.16" y="778.10" font-size="13.7" font-weight="bold" stroke="#000" stroke-width="0.3" textLength="22.29" lengthAdjust="spacingAndGlyphs">hpi</text>
<text x="61.79" y="570.70" font-size="13.5" font-weight="bold" stroke="#000" stroke-width="0.3" textLength="75.98" lengthAdjust="spacingAndGlyphs">MS (HFF-1)</text>
<text x="62.19" y="587.30" font-size="13.5" font-weight="bold" stroke="#000" stroke-width="0.3" textLength="28.96" lengthAdjust="spacingAndGlyphs">CAV</text>
<line x1="84.50" y1="643.00" x2="84.50" y2="653.00" stroke="#ffa060" stroke-width="1.0" stroke-linecap="butt"/>
<line x1="80.30" y1="643.00" x2="88.70" y2="643.00" stroke="#ffa060" stroke-width="1.0" stroke-linecap="butt"/>
<line x1="80.30" y1="653.00" x2="88.70" y2="653.00" stroke="#ffa060" stroke-width="1.0" stroke-linecap="butt"/>
<line x1="84.50" y1="649.00" x2="84.50" y2="659.00" stroke="#1673fb" stroke-width="1.0" stroke-linecap="butt"/>
<line x1="80.30" y1="649.00" x2="88.70" y2="649.00" stroke="#1673fb" stroke-width="1.0" stroke-linecap="butt"/>
<line x1="80.30" y1="659.00" x2="88.70" y2="659.00" stroke="#1673fb" stroke-width="1.0" stroke-linecap="butt"/>
<polyline points="47.20,679.60 84.50,654.20 121.70,634.60 159.10,612.70" fill="none" stroke="#1673fb" stroke-width="2.6" stroke-linejoin="round"/>
<circle cx="47.20" cy="679.60" r="3.50" fill="#1673fb"/>
<circle cx="84.50" cy="654.20" r="3.50" fill="#1673fb"/>
<circle cx="121.70" cy="634.60" r="3.50" fill="#1673fb"/>
<circle cx="159.10" cy="612.70" r="3.50" fill="#1673fb"/>
<polyline points="47.20,678.30 84.50,648.30 121.70,634.60 159.10,618.50" fill="none" stroke="#ff7f27" stroke-width="2.6" stroke-linejoin="round"/>
<rect x="43.80" y="674.80" width="6.80" height="7.00" fill="#ff7f27"/>
<rect x="81.10" y="644.80" width="6.80" height="7.00" fill="#ff7f27"/>
<rect x="118.30" y="631.10" width="6.80" height="7.00" fill="#ff7f27"/>
<rect x="155.70" y="615.00" width="6.80" height="7.00" fill="#ff7f27"/>
<text transform="translate(17.30,670.10) rotate(-90)" x="-0.65" y="0" font-size="13.3" textLength="36.25" lengthAdjust="spacingAndGlyphs" font-weight="bold" stroke="#000" stroke-width="0.3">pfu/ml</text>
<line x1="263.00" y1="557.95" x2="263.00" y2="743.37" stroke="#000" stroke-width="1.5" stroke-linecap="butt"/>
<line x1="257.50" y1="558.70" x2="263.00" y2="558.70" stroke="#000" stroke-width="1.5" stroke-linecap="butt"/>
<text x="238.79" y="562.80" font-size="11.2" font-weight="bold" stroke="#000" stroke-width="0.3" textLength="11.58" lengthAdjust="spacingAndGlyphs">10</text>
<text x="250.94" y="558.90" font-size="8.2" stroke="#000" stroke-width="0.2">8</text>
<line x1="257.50" y1="581.69" x2="263.00" y2="581.69" stroke="#000" stroke-width="1.5" stroke-linecap="butt"/>
<text x="238.79" y="585.79" font-size="11.2" font-weight="bold" stroke="#000" stroke-width="0.3" textLength="11.58" lengthAdjust="spacingAndGlyphs">10</text>
<text x="250.88" y="581.89" font-size="8.2" stroke="#000" stroke-width="0.2">7</text>
<line x1="257.50" y1="604.68" x2="263.00" y2="604.68" stroke="#000" stroke-width="1.5" stroke-linecap="butt"/>
<text x="238.79" y="608.78" font-size="11.2" font-weight="bold" stroke="#000" stroke-width="0.3" textLength="11.58" lengthAdjust="spacingAndGlyphs">10</text>
<text x="250.88" y="604.88" font-size="8.2" stroke="#000" stroke-width="0.2">6</text>
<line x1="257.50" y1="627.67" x2="263.00" y2="627.67" stroke="#000" stroke-width="1.5" stroke-linecap="butt"/>
<text x="238.79" y="631.77" font-size="11.2" font-weight="bold" stroke="#000" stroke-width="0.3" textLength="11.58" lengthAdjust="spacingAndGlyphs">10</text>
<text x="250.97" y="627.87" font-size="8.2" stroke="#000" stroke-width="0.2">5</text>
<line x1="257.50" y1="650.66" x2="263.00" y2="650.66" stroke="#000" stroke-width="1.5" stroke-linecap="butt"/>
<text x="238.79" y="654.76" font-size="11.2" font-weight="bold" stroke="#000" stroke-width="0.3" textLength="11.58" lengthAdjust="spacingAndGlyphs">10</text>
<text x="251.11" y="650.86" font-size="8.2" stroke="#000" stroke-width="0.2">4</text>
<line x1="257.50" y1="673.65" x2="263.00" y2="673.65" stroke="#000" stroke-width="1.5" stroke-linecap="butt"/>
<text x="238.79" y="677.75" font-size="11.2" font-weight="bold" stroke="#000" stroke-width="0.3" textLength="11.58" lengthAdjust="spacingAndGlyphs">10</text>
<text x="250.99" y="673.85" font-size="8.2" stroke="#000" stroke-width="0.2">3</text>
<line x1="257.50" y1="696.64" x2="263.00" y2="696.64" stroke="#000" stroke-width="1.5" stroke-linecap="butt"/>
<text x="238.79" y="700.74" font-size="11.2" font-weight="bold" stroke="#000" stroke-width="0.3" textLength="11.58" lengthAdjust="spacingAndGlyphs">10</text>
<text x="250.89" y="696.84" font-size="8.2" stroke="#000" stroke-width="0.2">2</text>
<line x1="257.50" y1="719.63" x2="263.00" y2="719.63" stroke="#000" stroke-width="1.5" stroke-linecap="butt"/>
<text x="238.79" y="723.73" font-size="11.2" font-weight="bold" stroke="#000" stroke-width="0.3" textLength="11.58" lengthAdjust="spacingAndGlyphs">10</text>
<text x="250.68" y="719.83" font-size="8.2" stroke="#000" stroke-width="0.2">1</text>
<line x1="257.50" y1="742.62" x2="263.00" y2="742.62" stroke="#000" stroke-width="1.5" stroke-linecap="butt"/>
<text x="238.79" y="746.72" font-size="11.2" font-weight="bold" stroke="#000" stroke-width="0.3" textLength="11.58" lengthAdjust="spacingAndGlyphs">10</text>
<text x="250.98" y="742.82" font-size="8.2" stroke="#000" stroke-width="0.2">0</text>
<line x1="262.25" y1="742.62" x2="383.95" y2="742.62" stroke="#000" stroke-width="1.5" stroke-linecap="butt"/>
<line x1="263.00" y1="742.62" x2="263.00" y2="748.62" stroke="#000" stroke-width="1.5" stroke-linecap="butt"/>
<text x="263.00" y="760.00" font-size="10.6" font-weight="bold" stroke="#000" stroke-width="0.3" text-anchor="middle">0</text>
<line x1="302.70" y1="742.62" x2="302.70" y2="748.62" stroke="#000" stroke-width="1.5" stroke-linecap="butt"/>
<text x="302.70" y="760.00" font-size="10.6" font-weight="bold" stroke="#000" stroke-width="0.3" text-anchor="middle">24</text>
<line x1="342.90" y1="742.62" x2="342.90" y2="748.62" stroke="#000" stroke-width="1.5" stroke-linecap="butt"/>
<text x="342.90" y="760.00" font-size="10.6" font-weight="bold" stroke="#000" stroke-width="0.3" text-anchor="middle">48</text>
<line x1="383.20" y1="742.62" x2="383.20" y2="748.62" stroke="#000" stroke-width="1.5" stroke-linecap="butt"/>
<text x="383.20" y="760.00" font-size="10.6" font-weight="bold" stroke="#000" stroke-width="0.3" text-anchor="middle">72</text>
<text x="312.16" y="777.20" font-size="13.7" font-weight="bold" stroke="#000" stroke-width="0.3" textLength="22.29" lengthAdjust="spacingAndGlyphs">hpi</text>
<text x="275.09" y="568.40" font-size="13.5" font-weight="bold" stroke="#000" stroke-width="0.3" textLength="75.57" lengthAdjust="spacingAndGlyphs">MS (HFF-1)</text>
<text x="275.11" y="584.80" font-size="13.5" font-weight="bold" stroke="#000" stroke-width="0.3" textLength="18.74" lengthAdjust="spacingAndGlyphs">EV</text>
<line x1="263.00" y1="693.00" x2="263.00" y2="697.50" stroke="#ff7f27" stroke-width="1.0" stroke-linecap="butt"/>
<line x1="258.80" y1="693.00" x2="267.20" y2="693.00" stroke="#ff7f27" stroke-width="1.0" stroke-linecap="butt"/>
<line x1="258.80" y1="697.50" x2="267.20" y2="697.50" stroke="#ff7f27" stroke-width="1.0" stroke-linecap="butt"/>
<line x1="302.70" y1="659.00" x2="302.70" y2="663.00" stroke="#4a6ff0" stroke-width="1.0" stroke-linecap="butt"/>
<line x1="298.50" y1="659.00" x2="306.90" y2="659.00" stroke="#4a6ff0" stroke-width="1.0" stroke-linecap="butt"/>
<line x1="298.50" y1="663.00" x2="306.90" y2="663.00" stroke="#4a6ff0" stroke-width="1.0" stroke-linecap="butt"/>
<line x1="302.70" y1="667.00" x2="302.70" y2="672.80" stroke="#ff7f27" stroke-width="1.0" stroke-linecap="butt"/>
<line x1="298.50" y1="667.00" x2="306.90" y2="667.00" stroke="#ff7f27" stroke-width="1.0" stroke-linecap="butt"/>
<line x1="298.50" y1="672.80" x2="306.90" y2="672.80" stroke="#ff7f27" stroke-width="1.0" stroke-linecap="butt"/>
<line x1="342.90" y1="651.00" x2="342.90" y2="659.40" stroke="#ff7f27" stroke-width="1.0" stroke-linecap="butt"/>
<line x1="338.70" y1="651.00" x2="347.10" y2="651.00" stroke="#ff7f27" stroke-width="1.0" stroke-linecap="butt"/>
<line x1="338.70" y1="659.40" x2="347.10" y2="659.40" stroke="#ff7f27" stroke-width="1.0" stroke-linecap="butt"/>
<polyline points="263.00,690.00 302.70,663.00 342.90,646.20 383.20,621.30" fill="none" stroke="#1673fb" stroke-width="2.6" stroke-linejoin="round"/>
<circle cx="263.00" cy="690.00" r="3.50" fill="#4a6ff0"/>
<circle cx="302.70" cy="663.00" r="3.50" fill="#4a6ff0"/>
<circle cx="342.90" cy="646.20" r="3.50" fill="#4a6ff0"/>
<circle cx="383.20" cy="621.30" r="3.50" fill="#4a6ff0"/>
<polyline points="263.00,693.20 302.70,667.00 342.90,651.00 383.20,638.70" fill="none" stroke="#ff7f27" stroke-width="2.6" stroke-linejoin="round"/>
<rect x="259.60" y="689.70" width="6.80" height="7.00" fill="#ff7f27"/>
<rect x="299.30" y="663.50" width="6.80" height="7.00" fill="#ff7f27"/>
<rect x="339.50" y="647.50" width="6.80" height="7.00" fill="#ff7f27"/>
<rect x="379.80" y="635.20" width="6.80" height="7.00" fill="#ff7f27"/>
<text x="383.80" y="617.00" font-size="16" font-weight="bold" text-anchor="middle">*</text>
<text transform="translate(230.10,669.80) rotate(-90)" x="-0.71" y="0" font-size="13.3" textLength="39.19" lengthAdjust="spacingAndGlyphs" font-weight="bold" stroke="#000" stroke-width="0.3">pfu/ml</text>
<defs><filter id="bl" x="-20%" y="-20%" width="140%" height="140%"><feGaussianBlur stdDeviation="0.9"/></filter><filter id="bl2" x="-20%" y="-20%" width="140%" height="140%"><feGaussianBlur stdDeviation="0.45"/></filter><filter id="nz" x="0" y="0" width="100%" height="100%"><feTurbulence type="fractalNoise" baseFrequency="0.9" numOctaves="2" seed="3"/><feColorMatrix type="matrix" values="0 0 0 0 0.30  0 0 0 0 0.42  0 0 0 0 0.95  0 0 0 1.2 -0.45"/></filter><clipPath id="cp1"><ellipse cx="583.0" cy="344.4" rx="71.5" ry="74.2"/></clipPath><clipPath id="cp2"><ellipse cx="584.0" cy="498.4" rx="75.1" ry="70.1"/></clipPath></defs>
<ellipse cx="583.0" cy="344.4" rx="71.5" ry="74.2" fill="#2c12c8"/>
<ellipse cx="584.0" cy="498.4" rx="75.1" ry="70.1" fill="#2c12c8"/>
<g clip-path="url(#cp1)"><g filter="url(#bl)" opacity="0.82">
<circle cx="563.90" cy="291.00" r="4.00" fill="#8a90c6"/>
<circle cx="536.90" cy="298.20" r="3.50" fill="#8a90c6"/>
<circle cx="530.40" cy="301.50" r="2.50" fill="#8a90c6"/>
<circle cx="549.40" cy="299.50" r="3.50" fill="#8a90c6"/>
<circle cx="554.70" cy="303.50" r="3.50" fill="#8a90c6"/>
<circle cx="570.40" cy="312.70" r="4.20" fill="#8a90c6"/>
<circle cx="578.30" cy="321.20" r="3.70" fill="#8a90c6"/>
<circle cx="595.40" cy="319.90" r="4.00" fill="#8a90c6"/>
<circle cx="588.80" cy="329.10" r="3.30" fill="#8a90c6"/>
<circle cx="599.40" cy="310.00" r="3.00" fill="#8a90c6"/>
<circle cx="567.20" cy="339.00" r="3.70" fill="#8a90c6"/>
<circle cx="573.70" cy="341.60" r="3.50" fill="#8a90c6"/>
<circle cx="590.20" cy="341.60" r="3.50" fill="#8a90c6"/>
<circle cx="531.00" cy="314.60" r="2.00" fill="#8a90c6"/>
<circle cx="534.30" cy="305.50" r="1.50" fill="#8a90c6"/>
<circle cx="537.00" cy="292.30" r="1.50" fill="#8a90c6"/>
<circle cx="512.60" cy="339.00" r="3.00" fill="#8a90c6"/>
<circle cx="622.10" cy="294.00" r="3.50" fill="#8a90c6"/>
<circle cx="606.60" cy="300.30" r="3.00" fill="#8a90c6"/>
<circle cx="601.70" cy="307.70" r="3.50" fill="#8a90c6"/>
<circle cx="599.80" cy="311.40" r="2.50" fill="#8a90c6"/>
<circle cx="595.50" cy="320.10" r="4.00" fill="#8a90c6"/>
<circle cx="578.70" cy="321.30" r="3.50" fill="#8a90c6"/>
<circle cx="588.60" cy="328.80" r="3.50" fill="#8a90c6"/>
<circle cx="608.50" cy="335.00" r="3.50" fill="#8a90c6"/>
<circle cx="625.90" cy="320.70" r="3.50" fill="#8a90c6"/>
<circle cx="637.70" cy="324.50" r="1.80" fill="#8a90c6"/>
<circle cx="642.00" cy="304.00" r="2.00" fill="#8a90c6"/>
<circle cx="591.10" cy="341.20" r="4.00" fill="#8a90c6"/>
<circle cx="607.30" cy="318.20" r="1.20" fill="#8a90c6"/>
<circle cx="602.30" cy="321.30" r="1.30" fill="#8a90c6"/>
<circle cx="513.50" cy="344.10" r="2.50" fill="#8a90c6"/>
<circle cx="524.00" cy="353.40" r="3.50" fill="#8a90c6"/>
<circle cx="517.00" cy="358.70" r="3.80" fill="#8a90c6"/>
<circle cx="548.00" cy="349.90" r="3.50" fill="#8a90c6"/>
<circle cx="544.50" cy="358.70" r="3.80" fill="#8a90c6"/>
<circle cx="550.30" cy="373.90" r="3.50" fill="#8a90c6"/>
<circle cx="575.40" cy="352.30" r="4.00" fill="#8a90c6"/>
<circle cx="581.20" cy="345.80" r="3.50" fill="#8a90c6"/>
<circle cx="567.20" cy="341.20" r="3.00" fill="#8a90c6"/>
<circle cx="583.00" cy="366.30" r="3.50" fill="#8a90c6"/>
<circle cx="581.20" cy="373.30" r="3.50" fill="#8a90c6"/>
<circle cx="573.10" cy="379.10" r="4.00" fill="#8a90c6"/>
<circle cx="577.70" cy="378.50" r="3.50" fill="#8a90c6"/>
<circle cx="571.90" cy="389.00" r="3.50" fill="#8a90c6"/>
<circle cx="548.00" cy="390.20" r="3.00" fill="#8a90c6"/>
<circle cx="546.80" cy="399.60" r="3.50" fill="#8a90c6"/>
<circle cx="557.30" cy="396.10" r="3.50" fill="#8a90c6"/>
<circle cx="557.30" cy="400.70" r="2.50" fill="#8a90c6"/>
<circle cx="575.40" cy="398.40" r="3.50" fill="#8a90c6"/>
<circle cx="567.20" cy="407.70" r="3.50" fill="#8a90c6"/>
<circle cx="581.20" cy="406.00" r="3.50" fill="#8a90c6"/>
<circle cx="587.10" cy="368.00" r="2.50" fill="#8a90c6"/>
<circle cx="589.30" cy="342.30" r="3.50" fill="#8a90c6"/>
<circle cx="594.00" cy="343.50" r="3.50" fill="#8a90c6"/>
<circle cx="601.00" cy="352.80" r="3.80" fill="#8a90c6"/>
<circle cx="606.90" cy="355.20" r="3.80" fill="#8a90c6"/>
<circle cx="616.20" cy="354.00" r="3.80" fill="#8a90c6"/>
<circle cx="626.10" cy="352.80" r="3.80" fill="#8a90c6"/>
<circle cx="611.00" cy="362.20" r="3.50" fill="#8a90c6"/>
<circle cx="599.30" cy="360.40" r="2.50" fill="#8a90c6"/>
<circle cx="592.80" cy="365.70" r="3.80" fill="#8a90c6"/>
<circle cx="583.50" cy="366.90" r="3.80" fill="#8a90c6"/>
<circle cx="588.80" cy="369.80" r="3.00" fill="#8a90c6"/>
<circle cx="582.30" cy="373.90" r="3.00" fill="#8a90c6"/>
<circle cx="609.80" cy="380.30" r="4.00" fill="#8a90c6"/>
<circle cx="602.20" cy="383.80" r="4.00" fill="#8a90c6"/>
<circle cx="636.10" cy="378.50" r="3.80" fill="#8a90c6"/>
<circle cx="643.10" cy="373.30" r="3.50" fill="#8a90c6"/>
<circle cx="609.20" cy="406.60" r="3.80" fill="#8a90c6"/>
<circle cx="582.90" cy="406.00" r="3.50" fill="#8a90c6"/>
<circle cx="571.18" cy="368.73" r="1.00" fill="#8a90c6"/>
<circle cx="641.81" cy="363.36" r="0.60" fill="#8a90c6"/>
<circle cx="572.12" cy="357.00" r="1.00" fill="#8a90c6"/>
<circle cx="587.39" cy="364.43" r="0.80" fill="#8a90c6"/>
<circle cx="601.54" cy="353.36" r="0.80" fill="#8a90c6"/>
<circle cx="630.65" cy="363.51" r="0.60" fill="#8a90c6"/>
<circle cx="547.61" cy="305.27" r="0.60" fill="#8a90c6"/>
<circle cx="545.10" cy="323.86" r="0.60" fill="#8a90c6"/>
<circle cx="643.32" cy="363.12" r="0.80" fill="#8a90c6"/>
<circle cx="539.31" cy="369.45" r="1.00" fill="#8a90c6"/>
<circle cx="560.93" cy="403.45" r="0.60" fill="#8a90c6"/>
<circle cx="623.99" cy="376.33" r="0.60" fill="#8a90c6"/>
<circle cx="548.00" cy="381.65" r="0.60" fill="#8a90c6"/>
<circle cx="533.82" cy="322.72" r="0.80" fill="#8a90c6"/>
<circle cx="564.17" cy="302.91" r="0.80" fill="#8a90c6"/>
<circle cx="519.18" cy="358.83" r="0.80" fill="#8a90c6"/>
<circle cx="564.36" cy="403.80" r="1.00" fill="#8a90c6"/>
<circle cx="586.63" cy="324.71" r="0.80" fill="#8a90c6"/>
<circle cx="520.18" cy="334.07" r="1.00" fill="#8a90c6"/>
<circle cx="532.65" cy="361.67" r="0.60" fill="#8a90c6"/>
<circle cx="615.42" cy="375.00" r="0.80" fill="#8a90c6"/>
<circle cx="610.47" cy="384.38" r="0.60" fill="#8a90c6"/>
<circle cx="601.41" cy="339.79" r="1.00" fill="#8a90c6"/>
<circle cx="525.96" cy="315.37" r="0.80" fill="#8a90c6"/>
<circle cx="561.41" cy="379.38" r="0.80" fill="#8a90c6"/>
<circle cx="542.74" cy="321.64" r="0.60" fill="#8a90c6"/>
<circle cx="627.02" cy="327.97" r="1.00" fill="#8a90c6"/>
<circle cx="636.36" cy="368.19" r="0.80" fill="#8a90c6"/>
<circle cx="542.19" cy="288.68" r="0.80" fill="#8a90c6"/>
<circle cx="573.89" cy="386.88" r="1.00" fill="#8a90c6"/>
<circle cx="545.25" cy="400.10" r="0.80" fill="#8a90c6"/>
<circle cx="594.46" cy="365.26" r="0.60" fill="#8a90c6"/>
<circle cx="590.23" cy="381.20" r="1.00" fill="#8a90c6"/>
<circle cx="583.64" cy="388.19" r="0.80" fill="#8a90c6"/>
<circle cx="622.86" cy="367.16" r="1.00" fill="#8a90c6"/>
<circle cx="578.62" cy="369.92" r="0.80" fill="#8a90c6"/>
<circle cx="606.56" cy="316.52" r="0.80" fill="#8a90c6"/>
<circle cx="638.98" cy="339.49" r="0.80" fill="#8a90c6"/>
<circle cx="608.49" cy="337.26" r="0.60" fill="#8a90c6"/>
<circle cx="615.07" cy="390.65" r="0.60" fill="#8a90c6"/>
<circle cx="531.04" cy="349.47" r="0.80" fill="#8a90c6"/>
<circle cx="577.83" cy="370.60" r="1.00" fill="#8a90c6"/>
<circle cx="548.14" cy="382.99" r="0.60" fill="#8a90c6"/>
<circle cx="565.17" cy="297.59" r="1.00" fill="#8a90c6"/>
<circle cx="550.12" cy="294.58" r="0.80" fill="#8a90c6"/>
<circle cx="631.48" cy="307.90" r="1.00" fill="#8a90c6"/>
<circle cx="595.62" cy="302.50" r="0.80" fill="#8a90c6"/>
<circle cx="545.88" cy="374.40" r="0.80" fill="#8a90c6"/>
<circle cx="599.31" cy="351.33" r="0.60" fill="#8a90c6"/>
<circle cx="562.01" cy="352.86" r="1.00" fill="#8a90c6"/>
</g>
<ellipse cx="579.5" cy="345.5" rx="69.5" ry="71.5" fill="none" stroke="#1c0c90" stroke-width="1.2" opacity="0.55"/>
<ellipse cx="578.5" cy="345.5" rx="68.0" ry="70.5" fill="none" stroke="#6a68d0" stroke-width="0.7" opacity="0.35"/>
<rect x="505" y="262" width="160" height="165" filter="url(#nz)" opacity="0.4"/>
</g>
<g clip-path="url(#cp2)"><g filter="url(#bl)" opacity="0.82">
<circle cx="564.20" cy="439.50" r="4.60" fill="#8a90c6"/>
<circle cx="572.20" cy="436.20" r="4.20" fill="#8a90c6"/>
<circle cx="582.70" cy="438.70" r="4.80" fill="#8a90c6"/>
<circle cx="543.30" cy="452.30" r="4.50" fill="#8a90c6"/>
<circle cx="553.80" cy="459.50" r="5.00" fill="#8a90c6"/>
<circle cx="545.70" cy="468.40" r="3.80" fill="#8a90c6"/>
<circle cx="564.20" cy="472.40" r="4.50" fill="#8a90c6"/>
<circle cx="594.70" cy="453.90" r="4.50" fill="#8a90c6"/>
<circle cx="589.90" cy="473.20" r="4.50" fill="#8a90c6"/>
<circle cx="606.00" cy="445.90" r="4.50" fill="#8a90c6"/>
<circle cx="606.00" cy="472.40" r="4.80" fill="#8a90c6"/>
<circle cx="614.80" cy="474.80" r="4.50" fill="#8a90c6"/>
<circle cx="575.40" cy="478.80" r="3.50" fill="#8a90c6"/>
<circle cx="583.50" cy="484.40" r="4.50" fill="#8a90c6"/>
<circle cx="584.30" cy="494.00" r="4.50" fill="#8a90c6"/>
<circle cx="585.30" cy="496.50" r="4.50" fill="#8a90c6"/>
<circle cx="594.00" cy="502.30" r="4.80" fill="#8a90c6"/>
<circle cx="564.80" cy="516.20" r="4.80" fill="#8a90c6"/>
<circle cx="575.00" cy="520.60" r="4.50" fill="#8a90c6"/>
<circle cx="585.30" cy="517.70" r="4.80" fill="#8a90c6"/>
<circle cx="592.60" cy="522.80" r="4.80" fill="#8a90c6"/>
<circle cx="561.90" cy="548.30" r="4.80" fill="#8a90c6"/>
<circle cx="599.10" cy="542.50" r="4.80" fill="#8a90c6"/>
<circle cx="609.30" cy="543.90" r="4.60" fill="#8a90c6"/>
<circle cx="625.40" cy="543.20" r="5.00" fill="#8a90c6"/>
<circle cx="621.80" cy="500.90" r="3.80" fill="#8a90c6"/>
<circle cx="542.20" cy="532.30" r="4.00" fill="#8a90c6"/>
<circle cx="575.80" cy="479.00" r="3.00" fill="#8a90c6"/>
<circle cx="604.20" cy="522.80" r="3.00" fill="#8a90c6"/>
<circle cx="517.60" cy="468.40" r="2.50" fill="#8a90c6"/>
<circle cx="624.00" cy="521.00" r="2.50" fill="#8a90c6"/>
<circle cx="530.00" cy="515.00" r="2.50" fill="#8a90c6"/>
<circle cx="535.00" cy="540.00" r="2.50" fill="#8a90c6"/>
<circle cx="545.80" cy="468.80" r="3.50" fill="#8a90c6"/>
<circle cx="554.60" cy="462.20" r="3.00" fill="#8a90c6"/>
<circle cx="516.00" cy="458.00" r="2.00" fill="#8a90c6"/>
</g>
<g filter="url(#bl2)" opacity="0.85">
<circle cx="557.96" cy="479.02" r="1.00" fill="#8a90c6"/>
<circle cx="562.22" cy="556.53" r="0.80" fill="#8a90c6"/>
<circle cx="558.12" cy="495.99" r="1.40" fill="#8a90c6"/>
<circle cx="558.81" cy="499.61" r="1.20" fill="#8a90c6"/>
<circle cx="562.80" cy="517.74" r="0.80" fill="#8a90c6"/>
<circle cx="564.97" cy="560.14" r="1.40" fill="#8a90c6"/>
<circle cx="561.73" cy="504.48" r="1.00" fill="#8a90c6"/>
<circle cx="558.40" cy="506.99" r="1.20" fill="#8a90c6"/>
<circle cx="561.71" cy="535.54" r="0.80" fill="#8a90c6"/>
<circle cx="559.31" cy="556.78" r="1.20" fill="#8a90c6"/>
<circle cx="558.79" cy="523.38" r="0.80" fill="#8a90c6"/>
<circle cx="564.17" cy="503.35" r="0.80" fill="#8a90c6"/>
<circle cx="563.63" cy="500.33" r="1.20" fill="#8a90c6"/>
<circle cx="565.49" cy="508.06" r="1.00" fill="#8a90c6"/>
<circle cx="562.19" cy="542.65" r="1.20" fill="#8a90c6"/>
<circle cx="563.10" cy="529.10" r="1.00" fill="#8a90c6"/>
<circle cx="564.59" cy="545.86" r="1.00" fill="#8a90c6"/>
<circle cx="559.26" cy="519.26" r="0.80" fill="#8a90c6"/>
<circle cx="566.21" cy="543.55" r="1.40" fill="#8a90c6"/>
<circle cx="559.78" cy="535.58" r="1.20" fill="#8a90c6"/>
<circle cx="561.44" cy="555.55" r="1.20" fill="#8a90c6"/>
<circle cx="565.90" cy="508.79" r="1.00" fill="#8a90c6"/>
<circle cx="558.40" cy="517.41" r="1.20" fill="#8a90c6"/>
<circle cx="559.30" cy="529.99" r="0.80" fill="#8a90c6"/>
<circle cx="561.72" cy="532.35" r="0.80" fill="#8a90c6"/>
<circle cx="564.84" cy="488.80" r="1.40" fill="#8a90c6"/>
<circle cx="564.38" cy="540.29" r="1.40" fill="#8a90c6"/>
<circle cx="565.32" cy="514.45" r="1.20" fill="#8a90c6"/>
<circle cx="558.26" cy="556.30" r="1.40" fill="#8a90c6"/>
<circle cx="561.58" cy="539.73" r="0.80" fill="#8a90c6"/>
<circle cx="563.88" cy="492.89" r="1.00" fill="#8a90c6"/>
<circle cx="557.74" cy="527.27" r="1.40" fill="#8a90c6"/>
<circle cx="564.60" cy="490.94" r="1.40" fill="#8a90c6"/>
<circle cx="563.28" cy="507.63" r="1.00" fill="#8a90c6"/>
<circle cx="557.69" cy="544.31" r="0.80" fill="#8a90c6"/>
<circle cx="562.13" cy="555.28" r="1.40" fill="#8a90c6"/>
<circle cx="566.18" cy="494.92" r="1.00" fill="#8a90c6"/>
<circle cx="557.75" cy="496.38" r="1.00" fill="#8a90c6"/>
<circle cx="564.22" cy="505.63" r="1.40" fill="#8a90c6"/>
<circle cx="564.84" cy="483.98" r="1.20" fill="#8a90c6"/>
<circle cx="565.40" cy="533.12" r="1.40" fill="#8a90c6"/>
<circle cx="564.78" cy="550.75" r="1.00" fill="#8a90c6"/>
<circle cx="562.18" cy="521.77" r="0.80" fill="#8a90c6"/>
<circle cx="565.18" cy="542.44" r="0.80" fill="#8a90c6"/>
<circle cx="564.33" cy="491.24" r="1.00" fill="#8a90c6"/>
<circle cx="561.67" cy="538.25" r="0.80" fill="#8a90c6"/>
<circle cx="560.37" cy="521.35" r="1.40" fill="#8a90c6"/>
<circle cx="564.40" cy="487.67" r="0.80" fill="#8a90c6"/>
<circle cx="559.69" cy="501.62" r="0.80" fill="#8a90c6"/>
<circle cx="561.97" cy="524.89" r="0.80" fill="#8a90c6"/>
<circle cx="582.08" cy="535.55" r="1.00" fill="#8a90c6"/>
<circle cx="588.09" cy="523.38" r="1.40" fill="#8a90c6"/>
<circle cx="583.64" cy="507.82" r="1.20" fill="#8a90c6"/>
<circle cx="593.64" cy="556.85" r="1.00" fill="#8a90c6"/>
<circle cx="591.64" cy="499.42" r="0.80" fill="#8a90c6"/>
<circle cx="580.86" cy="513.01" r="1.00" fill="#8a90c6"/>
<circle cx="581.72" cy="505.16" r="1.20" fill="#8a90c6"/>
<circle cx="590.29" cy="557.17" r="1.00" fill="#8a90c6"/>
<circle cx="594.04" cy="537.90" r="1.20" fill="#8a90c6"/>
<circle cx="574.85" cy="556.10" r="1.40" fill="#8a90c6"/>
<circle cx="576.69" cy="561.39" r="1.40" fill="#8a90c6"/>
<circle cx="592.73" cy="501.37" r="1.00" fill="#8a90c6"/>
<circle cx="575.29" cy="521.80" r="1.40" fill="#8a90c6"/>
<circle cx="579.57" cy="503.88" r="1.20" fill="#8a90c6"/>
<circle cx="573.62" cy="516.81" r="1.20" fill="#8a90c6"/>
<circle cx="584.75" cy="522.47" r="0.80" fill="#8a90c6"/>
<circle cx="580.66" cy="528.32" r="1.20" fill="#8a90c6"/>
<circle cx="583.75" cy="493.89" r="1.00" fill="#8a90c6"/>
<circle cx="594.82" cy="496.96" r="1.20" fill="#8a90c6"/>
<circle cx="577.95" cy="557.85" r="1.00" fill="#8a90c6"/>
<circle cx="577.92" cy="498.85" r="1.40" fill="#8a90c6"/>
<circle cx="591.88" cy="540.37" r="1.20" fill="#8a90c6"/>
<circle cx="581.18" cy="529.78" r="1.40" fill="#8a90c6"/>
<circle cx="588.28" cy="495.80" r="0.80" fill="#8a90c6"/>
<circle cx="590.67" cy="502.93" r="0.80" fill="#8a90c6"/>
<circle cx="577.88" cy="490.28" r="0.80" fill="#8a90c6"/>
<circle cx="590.72" cy="495.36" r="1.00" fill="#8a90c6"/>
<circle cx="573.01" cy="554.57" r="1.40" fill="#8a90c6"/>
<circle cx="571.68" cy="564.57" r="1.40" fill="#8a90c6"/>
<circle cx="593.73" cy="509.36" r="1.00" fill="#8a90c6"/>
<circle cx="572.44" cy="542.92" r="0.80" fill="#8a90c6"/>
<circle cx="594.76" cy="508.90" r="1.00" fill="#8a90c6"/>
<circle cx="576.26" cy="512.71" r="1.20" fill="#8a90c6"/>
<circle cx="584.20" cy="504.65" r="1.40" fill="#8a90c6"/>
<circle cx="583.45" cy="502.52" r="1.20" fill="#8a90c6"/>
<circle cx="590.77" cy="564.58" r="0.80" fill="#8a90c6"/>
<circle cx="571.77" cy="544.71" r="1.00" fill="#8a90c6"/>
<circle cx="583.79" cy="507.67" r="1.40" fill="#8a90c6"/>
<circle cx="573.96" cy="551.24" r="1.40" fill="#8a90c6"/>
<circle cx="587.22" cy="530.49" r="1.40" fill="#8a90c6"/>
<circle cx="594.78" cy="512.39" r="1.00" fill="#8a90c6"/>
<circle cx="595.08" cy="515.05" r="1.00" fill="#8a90c6"/>
<circle cx="581.15" cy="515.41" r="0.80" fill="#8a90c6"/>
<circle cx="591.57" cy="490.08" r="1.20" fill="#8a90c6"/>
<circle cx="581.78" cy="493.21" r="1.40" fill="#8a90c6"/>
<circle cx="592.38" cy="539.96" r="1.20" fill="#8a90c6"/>
<circle cx="585.83" cy="541.64" r="0.80" fill="#8a90c6"/>
<circle cx="582.47" cy="500.97" r="1.40" fill="#8a90c6"/>
<circle cx="571.49" cy="516.67" r="1.20" fill="#8a90c6"/>
<circle cx="594.84" cy="530.58" r="1.00" fill="#8a90c6"/>
<circle cx="572.23" cy="556.06" r="1.00" fill="#8a90c6"/>
<circle cx="579.99" cy="489.08" r="1.40" fill="#8a90c6"/>
<circle cx="573.42" cy="510.20" r="1.00" fill="#8a90c6"/>
<circle cx="577.38" cy="547.99" r="0.80" fill="#8a90c6"/>
<circle cx="577.77" cy="495.82" r="1.40" fill="#8a90c6"/>
<circle cx="585.54" cy="518.94" r="1.20" fill="#8a90c6"/>
<circle cx="578.73" cy="506.69" r="1.00" fill="#8a90c6"/>
<circle cx="587.25" cy="543.42" r="1.40" fill="#8a90c6"/>
<circle cx="589.82" cy="543.77" r="1.40" fill="#8a90c6"/>
<circle cx="575.00" cy="544.04" r="1.00" fill="#8a90c6"/>
<circle cx="572.46" cy="552.48" r="1.40" fill="#8a90c6"/>
<circle cx="589.09" cy="550.73" r="1.00" fill="#8a90c6"/>
<circle cx="593.33" cy="546.22" r="0.80" fill="#8a90c6"/>
<circle cx="591.32" cy="533.39" r="1.00" fill="#8a90c6"/>
<circle cx="573.45" cy="492.18" r="1.20" fill="#8a90c6"/>
<circle cx="594.52" cy="517.62" r="1.40" fill="#8a90c6"/>
<circle cx="584.86" cy="536.71" r="1.00" fill="#8a90c6"/>
<circle cx="583.19" cy="489.25" r="0.80" fill="#8a90c6"/>
<circle cx="589.43" cy="527.23" r="0.80" fill="#8a90c6"/>
<circle cx="587.29" cy="494.02" r="1.40" fill="#8a90c6"/>
<circle cx="577.48" cy="494.66" r="1.20" fill="#8a90c6"/>
<circle cx="577.06" cy="546.49" r="1.00" fill="#8a90c6"/>
<circle cx="589.23" cy="563.16" r="1.40" fill="#8a90c6"/>
<circle cx="591.78" cy="494.83" r="1.20" fill="#8a90c6"/>
<circle cx="589.88" cy="535.89" r="1.00" fill="#8a90c6"/>
<circle cx="573.27" cy="500.20" r="1.20" fill="#8a90c6"/>
<circle cx="587.10" cy="541.66" r="1.00" fill="#8a90c6"/>
<circle cx="571.70" cy="493.61" r="1.20" fill="#8a90c6"/>
<circle cx="594.84" cy="496.56" r="1.00" fill="#8a90c6"/>
<circle cx="587.68" cy="511.11" r="1.20" fill="#8a90c6"/>
<circle cx="582.60" cy="524.44" r="0.80" fill="#8a90c6"/>
<circle cx="595.34" cy="530.73" r="1.20" fill="#8a90c6"/>
<circle cx="594.97" cy="560.16" r="0.80" fill="#8a90c6"/>
<circle cx="578.38" cy="494.81" r="1.40" fill="#8a90c6"/>
<circle cx="595.35" cy="518.40" r="1.00" fill="#8a90c6"/>
<circle cx="573.20" cy="495.86" r="1.20" fill="#8a90c6"/>
<circle cx="594.36" cy="499.08" r="1.20" fill="#8a90c6"/>
<circle cx="592.77" cy="542.45" r="1.00" fill="#8a90c6"/>
<circle cx="583.40" cy="555.59" r="1.40" fill="#8a90c6"/>
<circle cx="572.00" cy="489.27" r="1.40" fill="#8a90c6"/>
<circle cx="587.83" cy="519.81" r="1.00" fill="#8a90c6"/>
<circle cx="581.43" cy="517.58" r="0.80" fill="#8a90c6"/>
<circle cx="591.65" cy="489.13" r="1.20" fill="#8a90c6"/>
<circle cx="591.62" cy="498.12" r="1.00" fill="#8a90c6"/>
<circle cx="588.58" cy="557.52" r="1.20" fill="#8a90c6"/>
<circle cx="577.50" cy="493.94" r="1.40" fill="#8a90c6"/>
<circle cx="595.47" cy="533.78" r="1.20" fill="#8a90c6"/>
<circle cx="593.70" cy="546.43" r="0.80" fill="#8a90c6"/>
<circle cx="578.16" cy="492.92" r="1.20" fill="#8a90c6"/>
<circle cx="586.70" cy="500.32" r="1.20" fill="#8a90c6"/>
<circle cx="581.91" cy="512.99" r="1.20" fill="#8a90c6"/>
<circle cx="590.32" cy="521.51" r="0.80" fill="#8a90c6"/>
<circle cx="590.97" cy="536.95" r="1.00" fill="#8a90c6"/>
<circle cx="588.74" cy="492.76" r="1.40" fill="#8a90c6"/>
<circle cx="582.27" cy="546.20" r="1.20" fill="#8a90c6"/>
<circle cx="583.10" cy="558.30" r="1.00" fill="#8a90c6"/>
<circle cx="575.52" cy="520.53" r="1.20" fill="#8a90c6"/>
<circle cx="578.58" cy="545.17" r="1.20" fill="#8a90c6"/>
<circle cx="581.19" cy="507.14" r="1.40" fill="#8a90c6"/>
<circle cx="584.83" cy="518.97" r="1.00" fill="#8a90c6"/>
<circle cx="586.90" cy="494.71" r="1.40" fill="#8a90c6"/>
<circle cx="584.66" cy="523.43" r="1.20" fill="#8a90c6"/>
<circle cx="595.42" cy="523.20" r="1.00" fill="#8a90c6"/>
<circle cx="584.60" cy="507.55" r="1.00" fill="#8a90c6"/>
<circle cx="579.64" cy="495.92" r="1.00" fill="#8a90c6"/>
<circle cx="580.28" cy="550.51" r="1.00" fill="#8a90c6"/>
<circle cx="592.78" cy="545.97" r="1.40" fill="#8a90c6"/>
<circle cx="580.63" cy="545.68" r="1.00" fill="#8a90c6"/>
<circle cx="580.48" cy="514.70" r="0.80" fill="#8a90c6"/>
<circle cx="583.41" cy="532.65" r="1.20" fill="#8a90c6"/>
<circle cx="574.43" cy="527.26" r="1.00" fill="#8a90c6"/>
<circle cx="573.63" cy="557.16" r="1.40" fill="#8a90c6"/>
<circle cx="581.03" cy="522.89" r="1.20" fill="#8a90c6"/>
<circle cx="591.85" cy="555.34" r="0.80" fill="#8a90c6"/>
<circle cx="574.47" cy="521.32" r="1.40" fill="#8a90c6"/>
<circle cx="594.74" cy="526.23" r="0.80" fill="#8a90c6"/>
<circle cx="580.84" cy="559.44" r="1.40" fill="#8a90c6"/>
<circle cx="594.83" cy="507.88" r="0.80" fill="#8a90c6"/>
<circle cx="576.79" cy="500.56" r="0.80" fill="#8a90c6"/>
<circle cx="594.09" cy="543.85" r="1.40" fill="#8a90c6"/>
<circle cx="602.79" cy="526.81" r="0.80" fill="#8a90c6"/>
<circle cx="614.99" cy="490.23" r="0.80" fill="#8a90c6"/>
<circle cx="612.60" cy="495.01" r="1.00" fill="#8a90c6"/>
<circle cx="612.26" cy="510.10" r="1.40" fill="#8a90c6"/>
<circle cx="613.53" cy="482.14" r="0.80" fill="#8a90c6"/>
<circle cx="606.56" cy="538.01" r="1.00" fill="#8a90c6"/>
<circle cx="608.09" cy="489.62" r="0.80" fill="#8a90c6"/>
<circle cx="601.48" cy="494.86" r="1.40" fill="#8a90c6"/>
<circle cx="606.18" cy="495.86" r="1.00" fill="#8a90c6"/>
<circle cx="609.62" cy="490.38" r="1.00" fill="#8a90c6"/>
<circle cx="601.81" cy="502.27" r="1.20" fill="#8a90c6"/>
<circle cx="602.27" cy="487.64" r="1.40" fill="#8a90c6"/>
<circle cx="602.72" cy="489.91" r="1.40" fill="#8a90c6"/>
<circle cx="617.49" cy="489.84" r="0.80" fill="#8a90c6"/>
<circle cx="613.48" cy="522.87" r="1.20" fill="#8a90c6"/>
<circle cx="613.24" cy="487.91" r="1.20" fill="#8a90c6"/>
<circle cx="614.23" cy="508.53" r="1.00" fill="#8a90c6"/>
<circle cx="609.97" cy="488.07" r="1.00" fill="#8a90c6"/>
<circle cx="605.34" cy="489.48" r="1.20" fill="#8a90c6"/>
<circle cx="603.21" cy="516.51" r="1.00" fill="#8a90c6"/>
<circle cx="616.99" cy="507.20" r="0.80" fill="#8a90c6"/>
<circle cx="617.90" cy="484.44" r="1.40" fill="#8a90c6"/>
<circle cx="602.25" cy="476.19" r="1.00" fill="#8a90c6"/>
<circle cx="608.57" cy="522.30" r="1.00" fill="#8a90c6"/>
<circle cx="608.18" cy="534.96" r="1.20" fill="#8a90c6"/>
<circle cx="614.12" cy="541.63" r="1.00" fill="#8a90c6"/>
<circle cx="607.06" cy="487.07" r="1.40" fill="#8a90c6"/>
<circle cx="601.86" cy="519.25" r="1.40" fill="#8a90c6"/>
<circle cx="615.98" cy="540.79" r="1.40" fill="#8a90c6"/>
<circle cx="604.26" cy="474.79" r="1.20" fill="#8a90c6"/>
<circle cx="602.71" cy="502.84" r="0.80" fill="#8a90c6"/>
<circle cx="611.12" cy="525.59" r="1.40" fill="#8a90c6"/>
<circle cx="607.54" cy="529.81" r="1.40" fill="#8a90c6"/>
<circle cx="602.84" cy="521.99" r="1.00" fill="#8a90c6"/>
<circle cx="607.82" cy="536.39" r="1.00" fill="#8a90c6"/>
<circle cx="606.96" cy="524.15" r="1.40" fill="#8a90c6"/>
<circle cx="601.83" cy="502.21" r="1.40" fill="#8a90c6"/>
<circle cx="602.01" cy="476.94" r="0.80" fill="#8a90c6"/>
<circle cx="615.36" cy="478.77" r="1.00" fill="#8a90c6"/>
<circle cx="614.38" cy="534.98" r="1.20" fill="#8a90c6"/>
<circle cx="607.65" cy="497.11" r="0.80" fill="#8a90c6"/>
<circle cx="605.89" cy="522.76" r="1.20" fill="#8a90c6"/>
<circle cx="617.47" cy="494.59" r="0.80" fill="#8a90c6"/>
<circle cx="601.72" cy="490.32" r="1.40" fill="#8a90c6"/>
<circle cx="613.82" cy="505.90" r="1.40" fill="#8a90c6"/>
<circle cx="615.12" cy="535.99" r="1.40" fill="#8a90c6"/>
<circle cx="603.62" cy="507.97" r="0.80" fill="#8a90c6"/>
<circle cx="615.34" cy="524.23" r="1.00" fill="#8a90c6"/>
<circle cx="611.93" cy="496.63" r="1.20" fill="#8a90c6"/>
<circle cx="609.36" cy="527.27" r="0.80" fill="#8a90c6"/>
<circle cx="610.26" cy="500.92" r="1.00" fill="#8a90c6"/>
<circle cx="605.63" cy="478.95" r="0.80" fill="#8a90c6"/>
<circle cx="609.73" cy="511.20" r="1.00" fill="#8a90c6"/>
<circle cx="618.45" cy="533.97" r="0.80" fill="#8a90c6"/>
<circle cx="605.94" cy="480.25" r="0.80" fill="#8a90c6"/>
<circle cx="608.67" cy="541.02" r="1.40" fill="#8a90c6"/>
<circle cx="604.33" cy="483.53" r="1.40" fill="#8a90c6"/>
<circle cx="612.16" cy="519.90" r="0.80" fill="#8a90c6"/>
<circle cx="614.95" cy="494.35" r="1.20" fill="#8a90c6"/>
<circle cx="611.22" cy="499.66" r="1.20" fill="#8a90c6"/>
<circle cx="604.79" cy="491.23" r="1.00" fill="#8a90c6"/>
<circle cx="605.42" cy="493.51" r="1.00" fill="#8a90c6"/>
<circle cx="607.01" cy="501.22" r="1.00" fill="#8a90c6"/>
<circle cx="610.18" cy="490.15" r="0.80" fill="#8a90c6"/>
<circle cx="612.73" cy="541.19" r="0.80" fill="#8a90c6"/>
<circle cx="601.38" cy="533.93" r="1.00" fill="#8a90c6"/>
<circle cx="616.01" cy="536.05" r="0.80" fill="#8a90c6"/>
<circle cx="616.65" cy="490.25" r="0.80" fill="#8a90c6"/>
<circle cx="604.62" cy="539.98" r="1.00" fill="#8a90c6"/>
<circle cx="617.58" cy="499.61" r="1.00" fill="#8a90c6"/>
<circle cx="609.16" cy="492.07" r="0.80" fill="#8a90c6"/>
<circle cx="603.15" cy="514.66" r="1.20" fill="#8a90c6"/>
<circle cx="605.11" cy="499.38" r="1.00" fill="#8a90c6"/>
<circle cx="602.07" cy="541.79" r="0.80" fill="#8a90c6"/>
<circle cx="611.79" cy="518.39" r="1.00" fill="#8a90c6"/>
<circle cx="615.56" cy="529.63" r="1.40" fill="#8a90c6"/>
<circle cx="613.17" cy="487.04" r="1.20" fill="#8a90c6"/>
<circle cx="602.66" cy="476.71" r="1.40" fill="#8a90c6"/>
<circle cx="610.89" cy="478.85" r="0.80" fill="#8a90c6"/>
<circle cx="615.23" cy="519.22" r="1.00" fill="#8a90c6"/>
<circle cx="543.76" cy="452.75" r="1.00" fill="#8a90c6"/>
<circle cx="532.90" cy="468.05" r="1.20" fill="#8a90c6"/>
<circle cx="545.05" cy="480.52" r="0.80" fill="#8a90c6"/>
<circle cx="529.06" cy="493.15" r="1.20" fill="#8a90c6"/>
<circle cx="533.63" cy="446.55" r="1.20" fill="#8a90c6"/>
<circle cx="544.00" cy="478.21" r="1.40" fill="#8a90c6"/>
<circle cx="524.17" cy="445.50" r="1.00" fill="#8a90c6"/>
<circle cx="534.07" cy="514.73" r="1.40" fill="#8a90c6"/>
<circle cx="541.00" cy="476.00" r="1.00" fill="#8a90c6"/>
<circle cx="520.85" cy="449.39" r="1.00" fill="#8a90c6"/>
<circle cx="543.83" cy="522.33" r="0.80" fill="#8a90c6"/>
<circle cx="540.78" cy="523.81" r="1.00" fill="#8a90c6"/>
<circle cx="521.56" cy="469.08" r="1.00" fill="#8a90c6"/>
<circle cx="556.65" cy="454.25" r="1.40" fill="#8a90c6"/>
<circle cx="548.91" cy="512.33" r="1.00" fill="#8a90c6"/>
<circle cx="528.57" cy="516.17" r="0.80" fill="#8a90c6"/>
<circle cx="558.90" cy="486.03" r="0.80" fill="#8a90c6"/>
<circle cx="542.34" cy="499.09" r="0.80" fill="#8a90c6"/>
<circle cx="555.69" cy="497.73" r="1.00" fill="#8a90c6"/>
<circle cx="543.81" cy="517.81" r="1.40" fill="#8a90c6"/>
<circle cx="542.66" cy="461.67" r="1.40" fill="#8a90c6"/>
<circle cx="523.23" cy="463.54" r="1.40" fill="#8a90c6"/>
<circle cx="557.23" cy="458.30" r="1.20" fill="#8a90c6"/>
<circle cx="520.54" cy="466.00" r="1.00" fill="#8a90c6"/>
<circle cx="516.85" cy="492.80" r="0.80" fill="#8a90c6"/>
<circle cx="545.06" cy="472.56" r="1.40" fill="#8a90c6"/>
<circle cx="541.98" cy="491.75" r="1.20" fill="#8a90c6"/>
<circle cx="544.21" cy="471.20" r="1.00" fill="#8a90c6"/>
<circle cx="534.16" cy="501.00" r="1.40" fill="#8a90c6"/>
<circle cx="537.66" cy="460.19" r="0.80" fill="#8a90c6"/>
<circle cx="542.85" cy="486.61" r="1.00" fill="#8a90c6"/>
<circle cx="535.11" cy="497.58" r="1.40" fill="#8a90c6"/>
<circle cx="552.64" cy="513.89" r="1.40" fill="#8a90c6"/>
<circle cx="519.82" cy="455.92" r="1.40" fill="#8a90c6"/>
<circle cx="531.44" cy="513.19" r="0.80" fill="#8a90c6"/>
<circle cx="516.83" cy="456.07" r="1.20" fill="#8a90c6"/>
<circle cx="549.99" cy="488.48" r="0.80" fill="#8a90c6"/>
<circle cx="548.84" cy="521.06" r="1.00" fill="#8a90c6"/>
<circle cx="516.16" cy="450.64" r="0.80" fill="#8a90c6"/>
<circle cx="523.72" cy="528.45" r="1.40" fill="#8a90c6"/>
<circle cx="558.11" cy="462.44" r="1.00" fill="#8a90c6"/>
<circle cx="603.91" cy="458.84" r="1.00" fill="#8a90c6"/>
<circle cx="532.53" cy="444.04" r="1.20" fill="#8a90c6"/>
<circle cx="543.26" cy="465.86" r="1.20" fill="#8a90c6"/>
<circle cx="629.08" cy="448.26" r="1.20" fill="#8a90c6"/>
<circle cx="582.76" cy="466.80" r="1.00" fill="#8a90c6"/>
<circle cx="593.07" cy="454.63" r="1.00" fill="#8a90c6"/>
<circle cx="561.69" cy="431.47" r="1.00" fill="#8a90c6"/>
<circle cx="571.40" cy="455.46" r="1.20" fill="#8a90c6"/>
<circle cx="603.16" cy="465.82" r="1.00" fill="#8a90c6"/>
<circle cx="616.09" cy="440.57" r="0.80" fill="#8a90c6"/>
<circle cx="598.18" cy="444.39" r="1.40" fill="#8a90c6"/>
<circle cx="588.85" cy="453.20" r="0.80" fill="#8a90c6"/>
<circle cx="553.98" cy="451.43" r="1.40" fill="#8a90c6"/>
<circle cx="609.86" cy="444.86" r="1.40" fill="#8a90c6"/>
<circle cx="638.91" cy="453.09" r="1.20" fill="#8a90c6"/>
<circle cx="563.05" cy="433.26" r="1.00" fill="#8a90c6"/>
<circle cx="545.33" cy="459.74" r="0.80" fill="#8a90c6"/>
<circle cx="559.08" cy="450.64" r="1.20" fill="#8a90c6"/>
<circle cx="598.51" cy="469.36" r="1.20" fill="#8a90c6"/>
<circle cx="609.30" cy="459.88" r="1.00" fill="#8a90c6"/>
<circle cx="542.18" cy="454.64" r="1.40" fill="#8a90c6"/>
<circle cx="573.03" cy="444.56" r="0.80" fill="#8a90c6"/>
<circle cx="540.18" cy="439.09" r="0.80" fill="#8a90c6"/>
<circle cx="527.56" cy="430.10" r="1.20" fill="#8a90c6"/>
</g>
<rect x="503" y="420" width="162" height="155" filter="url(#nz)" opacity="0.4"/>
</g>
<text x="488.00" y="351.50" font-size="19" font-weight="bold" stroke="#ff6a10" stroke-width="0.3" text-anchor="middle" fill="#ff6a10" textLength="73.60" lengthAdjust="spacingAndGlyphs" transform="rotate(-90 488.00 351.50)">Clade IIb</text>
<text x="493.50" y="500.60" font-size="19" font-weight="bold" stroke="#1478f0" stroke-width="0.3" text-anchor="middle" fill="#1478f0" textLength="70.30" lengthAdjust="spacingAndGlyphs" transform="rotate(-90 493.50 500.60)">Clade Ib</text>
</svg></body></html>
